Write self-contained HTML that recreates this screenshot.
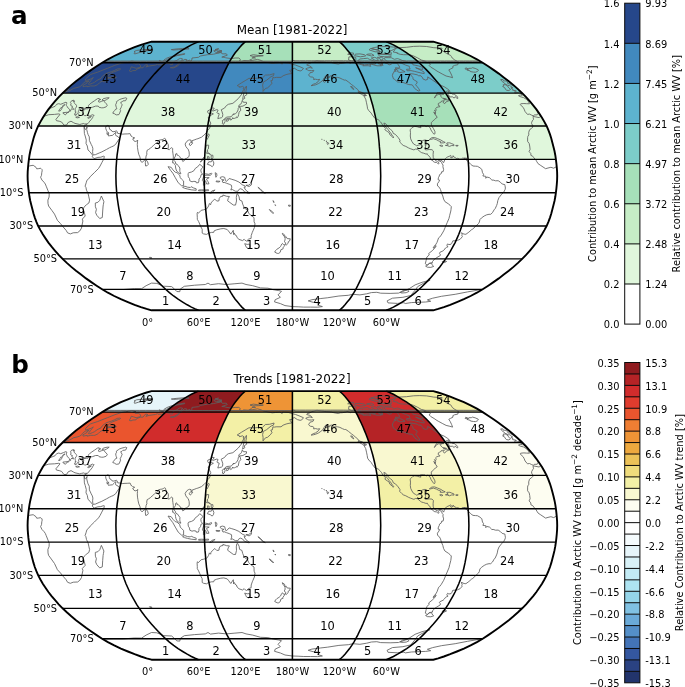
<!DOCTYPE html>
<html lang="en"><head><meta charset="utf-8"><title>Contribution to Arctic WV</title>
<style>
html,body{margin:0;padding:0;background:#fff}
body{width:685px;height:687px;overflow:hidden}
svg{display:block}
text{font-family:'DejaVu Sans','Liberation Sans',sans-serif;fill:#000}
.num{font-size:11.4px;text-anchor:start}
.lat{font-size:9.85px;text-anchor:end}
.lon{font-size:9.85px;text-anchor:middle}
.title{font-size:11.95px;text-anchor:middle}
.cl{font-size:9.85px;text-anchor:end}
.cr{font-size:9.85px;text-anchor:start}
.cbl{font-size:9.85px;text-anchor:middle}
.pl{font-size:24px;font-weight:bold}
</style></head><body>
<svg width="685" height="687" viewBox="0 0 685 687">
<rect width="685" height="687" fill="#fff"/>
<text x="10.9" y="23.5" class="pl" textLength="16.6" lengthAdjust="spacingAndGlyphs">a</text>
<text x="11.3" y="373.2" class="pl" textLength="17.6" lengthAdjust="spacingAndGlyphs">b</text>
<g>
<path d="M204.6 159.3 L204.8 155.2 L205 151 L205.4 146.9 L205.7 142.7 L206.1 138.5 L206.5 134.4 L207.1 130.2 L207.7 126 L292.4 126 L292.4 130.2 L292.4 134.4 L292.4 138.5 L292.4 142.7 L292.4 146.9 L292.4 151 L292.4 155.2 L292.4 159.3Z" fill="#e0f7dc"/>
<path d="M292.4 159.3 L292.4 155.2 L292.4 151 L292.4 146.9 L292.4 142.7 L292.4 138.5 L292.4 134.4 L292.4 130.2 L292.4 126 L377.1 126 L377.7 130.2 L378.3 134.4 L378.7 138.5 L379.1 142.7 L379.4 146.9 L379.8 151 L380 155.2 L380.2 159.3Z" fill="#e0f7dc"/>
<path d="M380.2 159.3 L380 155.2 L379.8 151 L379.4 146.9 L379.1 142.7 L378.7 138.5 L378.3 134.4 L377.7 130.2 L377.1 126 L461.8 126 L463.1 130.2 L464.1 134.4 L465 138.5 L465.8 142.7 L466.5 146.9 L467.1 151 L467.7 155.2 L468.1 159.3Z" fill="#e0f7dc"/>
<path d="M468.1 159.3 L467.7 155.2 L467.1 151 L466.5 146.9 L465.8 142.7 L465 138.5 L464.1 134.4 L463.1 130.2 L461.8 126 L546.6 126 L548.4 130.2 L550 134.4 L551.3 138.5 L552.4 142.7 L553.5 146.9 L554.5 151 L555.3 155.2 L555.9 159.3Z" fill="#e0f7dc"/>
<path d="M38.2 126 L40.4 121.9 L42.8 117.7 L45.5 113.6 L48.4 109.4 L51.6 105.3 L55.1 101.2 L58.7 97.1 L62.6 93.1 L139.2 93.1 L136.6 97.1 L134.2 101.2 L131.9 105.3 L129.7 109.4 L127.8 113.6 L126 117.7 L124.4 121.9 L123 126Z" fill="#e0f7dc"/>
<path d="M123 126 L124.4 121.9 L126 117.7 L127.8 113.6 L129.7 109.4 L131.9 105.3 L134.2 101.2 L136.6 97.1 L139.2 93.1 L215.8 93.1 L214.5 97.1 L213.3 101.2 L212.1 105.3 L211.1 109.4 L210.1 113.6 L209.2 117.7 L208.4 121.9 L207.7 126Z" fill="#e0f7dc"/>
<path d="M207.7 126 L208.4 121.9 L209.2 117.7 L210.1 113.6 L211.1 109.4 L212.1 105.3 L213.3 101.2 L214.5 97.1 L215.8 93.1 L292.4 93.1 L292.4 97.1 L292.4 101.2 L292.4 105.3 L292.4 109.4 L292.4 113.6 L292.4 117.7 L292.4 121.9 L292.4 126Z" fill="#e0f7dc"/>
<path d="M292.4 126 L292.4 121.9 L292.4 117.7 L292.4 113.6 L292.4 109.4 L292.4 105.3 L292.4 101.2 L292.4 97.1 L292.4 93.1 L369 93.1 L370.3 97.1 L371.5 101.2 L372.7 105.3 L373.7 109.4 L374.7 113.6 L375.6 117.7 L376.4 121.9 L377.1 126Z" fill="#e0f7dc"/>
<path d="M377.1 126 L376.4 121.9 L375.6 117.7 L374.7 113.6 L373.7 109.4 L372.7 105.3 L371.5 101.2 L370.3 97.1 L369 93.1 L445.6 93.1 L448.2 97.1 L450.6 101.2 L452.9 105.3 L455.1 109.4 L457 113.6 L458.8 117.7 L460.4 121.9 L461.8 126Z" fill="#a6e0b9"/>
<path d="M461.8 126 L460.4 121.9 L458.8 117.7 L457 113.6 L455.1 109.4 L452.9 105.3 L450.6 101.2 L448.2 97.1 L445.6 93.1 L522.2 93.1 L526.1 97.1 L529.7 101.2 L533.2 105.3 L536.4 109.4 L539.3 113.6 L542 117.7 L544.4 121.9 L546.6 126Z" fill="#e0f7dc"/>
<path d="M62.6 93.1 L66.8 89.1 L71.3 85.1 L76 81.2 L81 77.4 L86 73.6 L91.3 69.9 L96.6 66.3 L102.1 62.7 L165.6 62.7 L161.9 66.3 L158.3 69.9 L154.8 73.6 L151.4 77.4 L148.2 81.2 L145 85.1 L142 89.1 L139.2 93.1Z" fill="#26478a"/>
<path d="M139.2 93.1 L142 89.1 L145 85.1 L148.2 81.2 L151.4 77.4 L154.8 73.6 L158.3 69.9 L161.9 66.3 L165.6 62.7 L229 62.7 L227.1 66.3 L225.4 69.9 L223.6 73.6 L221.9 77.4 L220.3 81.2 L218.7 85.1 L217.2 89.1 L215.8 93.1Z" fill="#26478a"/>
<path d="M215.8 93.1 L217.2 89.1 L218.7 85.1 L220.3 81.2 L221.9 77.4 L223.6 73.6 L225.4 69.9 L227.1 66.3 L229 62.7 L292.4 62.7 L292.4 66.3 L292.4 69.9 L292.4 73.6 L292.4 77.4 L292.4 81.2 L292.4 85.1 L292.4 89.1 L292.4 93.1Z" fill="#4189be"/>
<path d="M292.4 93.1 L292.4 89.1 L292.4 85.1 L292.4 81.2 L292.4 77.4 L292.4 73.6 L292.4 69.9 L292.4 66.3 L292.4 62.7 L355.8 62.7 L357.7 66.3 L359.4 69.9 L361.2 73.6 L362.9 77.4 L364.5 81.2 L366.1 85.1 L367.6 89.1 L369 93.1Z" fill="#5db3cf"/>
<path d="M369 93.1 L367.6 89.1 L366.1 85.1 L364.5 81.2 L362.9 77.4 L361.2 73.6 L359.4 69.9 L357.7 66.3 L355.8 62.7 L419.2 62.7 L422.9 66.3 L426.5 69.9 L430 73.6 L433.4 77.4 L436.6 81.2 L439.8 85.1 L442.8 89.1 L445.6 93.1Z" fill="#5db3cf"/>
<path d="M445.6 93.1 L442.8 89.1 L439.8 85.1 L436.6 81.2 L433.4 77.4 L430 73.6 L426.5 69.9 L422.9 66.3 L419.2 62.7 L482.7 62.7 L488.2 66.3 L493.5 69.9 L498.8 73.6 L503.8 77.4 L508.8 81.2 L513.5 85.1 L518 89.1 L522.2 93.1Z" fill="#7ccdc9"/>
<path d="M102.1 62.7 L107.9 59.3 L114.2 56 L120.9 52.8 L127.9 49.9 L134.6 47.2 L140.9 44.9 L146.6 43.1 L151.5 41.7 L198.5 41.7 L195.2 43.1 L191.4 44.9 L187.2 47.2 L182.7 49.9 L178.1 52.8 L173.6 56 L169.4 59.3 L165.6 62.7Z" fill="#5db3cf"/>
<path d="M165.6 62.7 L169.4 59.3 L173.6 56 L178.1 52.8 L182.7 49.9 L187.2 47.2 L191.4 44.9 L195.2 43.1 L198.5 41.7 L245.4 41.7 L243.8 43.1 L241.9 44.9 L239.8 47.2 L237.6 49.9 L235.2 52.8 L233 56 L230.9 59.3 L229 62.7Z" fill="#5db3cf"/>
<path d="M229 62.7 L230.9 59.3 L233 56 L235.2 52.8 L237.6 49.9 L239.8 47.2 L241.9 44.9 L243.8 43.1 L245.4 41.7 L292.4 41.7 L292.4 43.1 L292.4 44.9 L292.4 47.2 L292.4 49.9 L292.4 52.8 L292.4 56 L292.4 59.3 L292.4 62.7Z" fill="#a6e0b9"/>
<path d="M292.4 62.7 L292.4 59.3 L292.4 56 L292.4 52.8 L292.4 49.9 L292.4 47.2 L292.4 44.9 L292.4 43.1 L292.4 41.7 L339.4 41.7 L341 43.1 L342.9 44.9 L345 47.2 L347.2 49.9 L349.6 52.8 L351.8 56 L353.9 59.3 L355.8 62.7Z" fill="#c6edc6"/>
<path d="M355.8 62.7 L353.9 59.3 L351.8 56 L349.6 52.8 L347.2 49.9 L345 47.2 L342.9 44.9 L341 43.1 L339.4 41.7 L386.3 41.7 L389.6 43.1 L393.4 44.9 L397.6 47.2 L402.1 49.9 L406.7 52.8 L411.2 56 L415.4 59.3 L419.2 62.7Z" fill="#7ccdc9"/>
<path d="M419.2 62.7 L415.4 59.3 L411.2 56 L406.7 52.8 L402.1 49.9 L397.6 47.2 L393.4 44.9 L389.6 43.1 L386.3 41.7 L433.3 41.7 L438.2 43.1 L443.9 44.9 L450.2 47.2 L456.9 49.9 L463.9 52.8 L470.6 56 L476.9 59.3 L482.7 62.7Z" fill="#c6edc6"/>
<path d="M533.0 116.4 L539.1 117.6 L540.4 116.6 L541.1 116.3 M43.7 116.3 L48.8 114.7 L54.5 114.4 L58.7 113.9 L60.0 114.4 L55.9 119.4 L56.5 120.7 L59.2 121.2 L61.6 122.0 L64.0 125.2 L66.6 125.0 L68.1 122.5 L71.0 121.2 L73.6 122.7 L75.0 123.4 L79.8 124.5 L81.4 124.0 L83.8 123.5 L84.7 124.0 L87.4 123.9 L84.1 126.0 L84.2 129.7 L84.4 133.5 L85.2 136.0 L86.3 140.2 L86.0 143.4 L87.3 146.0 L88.0 150.0 L90.1 151.9 L92.0 154.4 L92.7 155.2 L92.3 156.7 L94.1 158.7 L97.9 157.4 L100.8 157.2 L103.6 156.2 L104.3 156.4 L103.9 158.7 L101.8 162.7 L100.1 166.0 L98.5 168.5 L94.3 172.7 L90.2 176.7 L88.7 178.8 L86.9 180.3 L86.2 182.8 L85.1 186.2 L85.9 187.3 L86.5 190.2 L88.1 193.5 L88.8 196.8 L89.6 200.1 L88.9 203.0 L86.3 204.8 L85.1 206.0 L82.7 209.0 L84.4 212.6 L85.2 216.0 L82.3 219.1 L82.9 221.0 L81.9 225.8 L81.5 228.1 L79.8 230.9 L77.6 232.6 L73.2 232.8 L70.4 233.9 L67.6 232.9 L66.1 230.3 L63.0 226.8 L60.5 223.6 L57.4 220.3 L54.5 214.1 L52.0 210.6 L48.6 206.0 L48.0 203.5 L47.9 200.1 L49.1 197.0 L49.2 193.8 L48.0 190.7 L46.2 186.2 L45.3 184.0 L44.0 182.2 L41.9 180.0 L40.6 177.2 L41.5 175.3 L41.8 172.3 L42.2 170.8 L42.0 169.5 L41.0 168.5 L40.4 168.3 L38.2 168.7 L36.7 168.8 L36.0 167.3 L33.2 165.3 L29.9 165.8 L28.1 166.6 M556.7 166.6 L556.4 166.7 L553.7 168.2 L550.9 167.3 L548.0 168.0 L545.6 168.7 L540.8 165.5 L538.1 163.7 L536.9 161.8 L536.0 160.2 L533.8 157.7 L532.7 156.2 L530.9 155.4 L530.8 153.5 L529.1 151.5 L530.1 149.4 L529.7 146.0 L529.2 143.5 L527.6 141.4 L527.6 137.7 L527.8 136.5 L528.8 134.9 L528.7 132.5 L529.5 129.9 L529.8 129.5 L531.4 128.5 L532.8 127.0 L532.7 125.4 L531.6 123.7 L531.7 122.2 L532.8 120.1 L533.5 119.4 L533.2 117.4 L533.0 116.4 M101.4 196.0 L103.9 201.6 L103.4 204.3 L103.1 206.0 L102.7 211.0 L102.3 217.5 L99.7 218.5 L96.8 215.3 L95.6 212.6 L96.4 209.3 L95.4 206.8 L95.3 203.0 L97.9 202.3 L99.8 200.3 L100.5 198.3 L101.4 196.0 M533.4 115.9 L531.7 115.2 L529.5 114.1 L527.5 114.4 L525.1 111.6 L524.1 109.1 L523.2 107.4 L520.1 104.5 L520.7 103.8 L523.9 103.5 L526.7 103.7 L529.5 103.8 L528.5 101.7 L526.8 99.6 L523.6 97.6 L520.0 96.6 L518.5 95.7 L520.2 95.0 L522.3 95.3 L520.6 93.6 L522.9 93.8 M61.9 93.8 L62.1 93.9 L66.1 91.6 L69.0 90.8 L71.0 89.9 L73.6 88.3 L77.0 87.6 L79.6 86.8 L81.8 85.3 L82.3 84.2 L85.1 81.8 L89.2 80.9 L86.8 82.6 L87.0 83.1 L84.0 84.8 L83.0 85.4 L82.8 86.0 L83.0 86.7 L84.8 86.4 L87.2 85.9 L87.0 86.8 L90.8 85.9 L93.3 86.0 L94.9 85.9 L97.6 84.6 L98.4 84.0 L100.1 82.3 L102.0 81.2 L103.6 80.9 L103.3 81.8 L104.2 82.0 L106.2 80.4 L107.0 79.8 L106.3 79.3 L107.2 78.6 L109.1 78.1 L113.0 78.1 L116.3 77.5 L115.5 76.4 L110.7 77.1 L107.5 77.7 L107.7 76.7 L107.8 75.8 L110.2 73.9 L111.9 72.7 L118.4 70.2 L119.6 69.9 L120.6 69.0 L119.7 68.7 L117.2 69.0 L114.3 70.5 L111.7 71.6 L108.9 72.5 L105.8 73.7 L103.0 75.8 L102.4 76.3 L101.0 78.4 L97.0 80.4 L94.4 82.4 L92.5 83.2 L89.7 84.3 L88.3 84.2 L89.0 83.2 L90.7 80.9 L92.3 78.9 L93.3 77.5 L91.1 78.9 L86.8 80.3 L85.4 80.4 L85.7 78.9 L88.0 76.7 L90.4 74.6 L93.1 73.6 L97.6 72.2 L103.0 70.0 L107.2 68.4 L111.9 66.5 L114.9 65.3 L121.6 63.1 L125.3 62.5 L128.6 61.8 L131.8 61.1 L133.9 61.4 L135.8 62.2 L132.9 63.0 L134.3 63.0 L135.3 64.1 L138.8 63.8 L140.6 65.8 L140.3 67.3 L136.1 68.3 L133.3 67.4 L131.3 66.8 L130.1 69.9 L129.2 70.8 L131.0 71.5 L132.9 70.6 L135.9 70.5 L136.8 69.1 L140.5 67.8 L143.1 67.7 L143.8 66.7 L145.7 64.6 L147.9 65.1 L145.8 67.0 L149.1 66.0 L155.5 65.1 L157.5 64.3 L158.0 64.8 L162.3 64.8 L165.8 63.0 L169.3 63.7 L170.8 64.8 L172.8 64.3 L172.5 63.1 L173.9 61.6 L176.8 60.4 L179.2 58.8 L180.7 58.4 L182.7 58.9 L180.4 61.4 L178.5 64.1 L174.3 67.0 L170.3 67.7 L173.4 68.0 L177.1 66.3 L179.6 64.1 L182.0 61.1 L184.8 59.3 L186.9 59.7 L186.4 61.4 L189.8 60.0 L190.5 62.0 L191.8 60.0 L192.0 58.0 L198.5 57.3 L200.3 56.0 L207.5 54.7 L213.4 54.2 L220.5 52.6 L222.0 53.1 L222.3 53.9 L226.3 53.8 L227.3 55.2 L221.8 57.1 L225.0 57.4 L225.7 57.8 L231.3 58.6 L235.1 58.0 L238.8 58.0 L240.4 59.3 L239.5 60.5 L241.7 61.5 L243.7 60.5 L248.2 60.8 L251.4 59.3 L250.4 60.7 L257.5 59.4 L261.3 60.5 L263.1 61.5 L270.7 63.1 L272.2 63.4 L275.4 63.1 L280.0 62.7 L282.2 64.1 L282.5 62.6 L288.2 63.0 L292.4 64.3 L295.6 65.1 L300.0 66.8 L303.4 68.3 L303.2 69.0 L301.1 70.8 L300.1 70.9 L297.4 70.2 L294.1 68.0 L292.1 69.9 L289.6 70.3 L291.3 72.8 L291.6 73.6 L289.0 73.9 L286.1 74.6 L283.1 75.8 L281.0 77.4 L276.2 77.4 L274.5 77.7 L272.9 77.5 L272.4 80.4 L270.8 80.7 L272.0 83.2 L270.3 85.4 L267.5 87.9 L265.5 88.4 L263.0 91.5 L263.1 88.3 L262.6 85.1 L263.4 82.0 L266.4 80.4 L271.1 76.6 L273.4 75.8 L274.1 73.6 L269.6 74.9 L265.4 75.1 L262.3 78.1 L257.9 78.1 L255.2 78.4 L251.0 78.4 L248.9 78.4 L245.1 80.7 L241.4 82.9 L237.2 85.6 L239.8 86.7 L239.4 87.3 L242.7 86.4 L244.3 87.8 L243.1 88.3 L243.7 89.5 L242.2 92.3 L241.4 94.7 L238.2 98.7 L235.0 101.5 L232.9 103.3 L228.4 104.3 L226.4 105.6 L224.5 108.1 L221.2 109.8 L222.0 111.7 L222.8 114.4 L222.5 116.9 L221.7 117.6 L219.5 118.2 L217.8 118.6 L218.5 116.1 L219.1 114.4 L219.1 113.6 L217.4 113.2 L216.9 112.6 L218.1 110.2 L216.9 109.6 L213.4 110.9 L212.8 111.2 L212.7 110.1 L214.3 108.3 L212.8 107.9 L210.3 109.6 L207.7 110.9 L207.7 112.2 L208.7 113.6 L211.3 113.1 L213.4 113.9 L211.1 115.1 L210.0 116.1 L208.1 117.7 L208.9 119.4 L209.7 121.1 L210.7 123.0 L210.6 124.4 L209.2 125.2 L210.5 126.0 L209.4 128.5 L207.8 130.2 L206.1 133.0 L203.9 135.2 L201.5 137.2 L197.9 138.7 L196.7 139.0 L194.1 140.0 L192.1 140.7 L192.0 142.2 L191.1 142.0 L191.1 140.2 L189.4 139.9 L188.5 140.2 L186.8 141.4 L185.1 144.0 L185.8 146.4 L187.2 148.4 L188.2 149.2 L189.1 151.9 L189.3 154.7 L188.9 156.7 L186.3 158.5 L185.3 158.7 L184.9 160.0 L182.8 161.5 L182.3 160.2 L182.6 158.8 L181.7 158.7 L180.6 158.3 L179.7 156.5 L178.7 155.7 L176.9 154.9 L177.0 153.7 L176.4 153.5 L175.7 153.9 L175.5 156.0 L174.3 158.0 L174.0 160.5 L175.3 161.8 L175.9 164.0 L177.4 164.5 L178.2 165.7 L179.9 168.0 L179.8 170.2 L179.9 171.7 L180.9 173.7 L180.0 173.8 L178.6 172.7 L176.8 171.2 L175.9 169.0 L175.5 167.0 L175.4 165.3 L174.6 164.5 L173.2 162.3 L172.6 162.8 L172.7 160.7 L173.3 158.5 L173.3 156.0 L172.9 153.2 L172.6 150.7 L172.7 148.5 L171.7 147.7 L170.7 148.2 L169.3 149.7 L167.8 149.4 L168.4 146.9 L168.3 144.7 L167.4 143.0 L166.6 142.2 L165.8 140.5 L165.5 138.9 L164.4 138.4 L163.6 139.0 L162.1 139.7 L160.2 139.9 L158.3 140.5 L158.0 141.7 L157.2 142.9 L156.3 143.0 L155.0 143.9 L153.5 145.5 L152.2 146.5 L150.5 148.2 L148.7 149.4 L147.2 150.2 L146.7 152.7 L146.9 154.2 L146.1 156.0 L145.7 158.8 L144.7 160.5 L143.2 161.2 L142.1 162.5 L140.7 161.0 L140.4 159.3 L139.9 156.9 L138.8 154.5 L138.1 151.4 L137.9 150.2 L137.5 147.7 L137.3 144.4 L137.5 141.9 L137.7 140.0 L136.9 141.0 L135.1 141.5 L133.8 140.7 L132.7 138.9 L134.7 137.9 L132.7 137.2 L132.0 136.5 L130.9 135.9 L130.6 134.7 L130.1 133.7 L127.2 133.9 L124.0 134.0 L122.8 134.2 L120.1 133.7 L117.7 133.4 L117.1 131.4 L116.4 130.9 L113.9 131.7 L112.1 131.5 L111.1 130.0 L109.8 129.5 L109.3 127.9 L109.1 126.0 L107.7 125.4 L106.7 126.0 L105.9 126.2 L105.7 127.0 L105.8 128.7 L106.6 130.7 L107.3 131.9 L106.9 133.4 L107.4 134.7 L107.7 133.5 L108.5 132.5 L108.7 134.0 L108.2 135.0 L108.5 136.0 L109.8 135.7 L112.4 135.4 L114.1 133.9 L115.5 132.5 L116.0 132.2 L115.5 134.4 L115.7 135.4 L118.1 136.7 L119.5 138.5 L117.1 142.0 L115.6 144.4 L113.1 146.2 L111.3 146.9 L109.6 147.7 L106.6 149.4 L101.8 151.9 L99.2 153.0 L95.3 154.7 L93.1 154.9 L92.8 153.9 L92.6 151.4 L92.9 148.7 L92.3 146.5 L91.2 144.4 L89.4 140.5 L89.3 136.9 L88.0 134.4 L87.5 132.7 L86.7 129.4 L87.1 127.0 L85.6 129.4 L85.3 129.7 L84.6 128.9 L84.2 126.2 M87.4 123.9 L88.6 122.7 L89.8 121.1 L91.2 119.6 L92.6 117.7 L92.9 116.7 L94.1 115.2 L93.4 115.1 L92.3 114.7 L90.2 115.9 L89.1 116.1 L87.4 114.7 L87.0 114.6 L86.2 115.6 L84.4 115.6 L83.5 114.7 L82.6 114.4 L83.2 112.9 L82.3 112.2 L83.2 111.9 L84.0 110.6 L83.3 110.2 L84.0 109.3 L86.1 108.8 L88.1 108.8 L88.8 107.8 L92.3 107.3 L95.6 106.1 L98.2 106.1 L99.1 107.3 L101.4 107.8 L103.2 107.8 L106.1 106.9 L107.3 105.3 L107.0 104.5 L105.9 103.5 L104.8 102.2 L104.6 101.7 L103.7 100.9 L104.9 100.5 L106.6 99.6 L109.2 97.8 L107.1 97.8 L103.3 98.7 L102.1 100.0 L103.7 100.5 L101.8 101.2 L99.4 102.2 L98.7 102.0 L98.6 100.5 L100.7 99.4 L99.3 99.4 L99.2 98.4 L97.4 98.7 L94.6 100.7 L91.9 102.5 L90.1 103.8 L88.6 105.3 L88.4 106.3 L89.0 107.4 L86.7 107.8 L85.1 108.6 L84.4 108.3 L83.3 107.9 L82.5 107.9 L81.1 108.8 L80.9 109.4 L80.0 109.6 L80.1 108.4 L79.0 109.4 L78.7 110.7 L78.4 111.7 L79.1 112.4 L78.6 113.2 L77.7 112.9 L77.2 113.7 L76.2 115.2 L75.3 115.4 L75.3 114.4 L74.6 114.7 L75.0 113.1 L76.2 112.2 L75.2 112.1 L75.4 111.1 L75.2 109.9 L75.1 108.8 L76.3 107.1 L76.7 106.1 L76.4 105.3 L75.4 104.0 L74.4 103.3 L74.1 102.5 L74.5 100.9 L73.2 101.5 L73.8 100.2 L71.7 100.7 L70.4 102.5 L71.1 103.5 L70.6 105.3 L72.2 106.3 L72.6 106.3 L71.7 107.1 L72.7 107.6 L73.6 109.3 L73.0 109.8 L72.1 108.6 L70.7 109.8 L70.6 111.1 L69.6 111.4 L68.0 112.9 L67.4 112.7 L68.4 111.6 L69.5 110.7 L69.7 109.6 L69.0 109.1 L68.6 108.4 L68.6 108.1 L67.4 107.4 L67.1 106.4 L66.4 105.5 L66.3 104.5 L66.7 103.7 L66.8 102.7 L66.0 102.2 L63.4 103.2 L60.7 104.3 L59.9 104.0 L58.6 103.7 L56.6 104.3 L55.7 105.5 L55.1 106.3 L53.1 107.1 L50.5 108.1 L48.2 109.7 M536.6 109.7 L536.6 110.2 L537.6 111.0 M47.2 111.0 L47.1 111.6 L46.7 111.8 M538.1 111.8 L537.7 112.2 L538.3 113.4 L537.3 114.2 L537.2 114.9 L534.2 114.9 L533.4 115.9 M118.3 100.4 L119.4 99.6 L121.9 98.7 L124.3 98.1 L125.7 97.8 L126.8 98.3 L125.6 100.7 L122.9 100.9 L121.8 102.0 L120.8 102.2 L121.2 103.5 L122.2 104.8 L121.5 106.4 L121.2 107.4 L120.1 109.4 L120.6 110.7 L119.3 113.9 L118.9 114.6 L116.2 114.9 L114.4 113.7 L112.8 113.2 L113.4 111.9 L114.6 110.6 L115.7 109.1 L116.9 108.8 L116.3 107.3 L115.9 106.0 L115.7 104.5 L116.6 102.8 L116.3 101.8 L118.3 100.4 M514.8 92.9 L517.2 92.6 L518.8 92.1 L520.9 91.8 M63.9 91.8 L64.3 91.8 L66.4 91.1 L65.9 90.7 L69.1 88.9 L67.8 88.4 L68.9 87.3 L69.1 87.0 M515.7 87.0 L514.9 86.5 L511.8 85.1 L509.5 83.8 L507.7 83.5 L507.9 83.1 L507.0 81.8 L506.4 81.0 L504.2 80.9 L503.7 81.2 L502.9 79.5 L500.7 79.5 L501.6 81.0 L503.9 82.8 L506.1 84.6 L506.5 84.2 L507.9 85.6 L509.4 85.3 L510.6 86.2 L512.7 87.6 L511.0 87.8 L511.6 88.6 L513.0 89.2 L512.6 90.2 L515.7 90.7 L516.4 91.1 L514.9 91.3 L514.8 92.9 M510.5 89.5 L508.8 90.5 L506.8 90.3 L505.6 89.5 L504.9 87.9 L502.6 86.4 L503.9 85.9 L503.1 84.8 L504.0 84.6 L505.7 84.8 L507.3 85.7 L507.9 86.8 L509.0 87.8 L510.5 89.5 M470.4 71.6 L473.4 72.1 L475.7 72.2 L477.6 71.3 L478.3 70.6 L478.1 69.7 L475.1 68.4 L472.5 67.7 L471.3 68.3 L468.8 68.3 L468.6 69.1 L465.8 67.8 L465.2 68.7 L465.2 69.1 L468.2 69.3 L466.9 70.0 L470.2 70.9 L470.4 71.6 M63.0 112.7 L67.7 112.2 L65.4 114.9 L62.8 113.1 L63.0 112.7 M60.7 107.8 L62.3 107.4 L61.5 109.4 L60.2 110.9 L58.6 111.1 L60.1 108.9 L60.7 107.8 M64.9 104.5 L63.7 106.1 L62.6 107.1 L62.5 106.1 L63.4 105.1 L64.9 104.5 M75.7 117.2 L77.3 116.7 L79.5 117.4 L77.1 117.9 L75.7 117.2 M87.6 117.7 L88.9 117.1 L91.4 116.6 L89.8 117.7 L88.2 118.4 L87.6 117.7 M239.9 106.9 L240.8 110.2 L239.1 112.2 L238.6 114.6 L238.2 116.6 L236.8 117.9 L236.6 116.9 L235.2 118.2 L234.3 118.4 L232.7 118.4 L232.6 117.7 L232.3 118.9 L230.7 120.2 L230.0 118.9 L230.3 118.2 L228.5 118.4 L226.4 118.9 L224.0 119.4 L224.9 118.4 L226.8 117.1 L229.2 116.9 L231.3 116.7 L232.8 114.7 L233.8 113.6 L233.2 114.7 L235.4 113.7 L236.9 112.4 L238.1 109.9 L238.2 108.4 L238.9 107.4 L239.9 106.9 M224.0 119.6 L225.0 120.6 L225.1 121.4 L224.1 123.7 L223.0 124.4 L222.4 123.7 L222.7 121.9 L222.1 120.9 L223.2 120.1 L224.0 119.6 M226.2 119.9 L227.7 119.2 L229.2 119.1 L228.5 120.6 L226.7 121.4 L226.2 119.9 M238.7 106.9 L240.3 106.4 L243.0 106.1 L246.5 104.0 L246.5 102.3 L243.4 102.3 L242.3 100.4 L241.6 102.8 L240.8 104.1 L239.4 104.8 L238.7 106.1 L238.7 106.9 M246.4 86.0 L246.5 88.3 L245.9 91.5 L246.8 94.7 L244.3 96.3 L244.8 98.3 L242.6 99.6 L243.2 96.3 L243.9 93.1 L244.3 89.9 L246.4 86.0 M208.7 133.9 L209.3 135.2 L207.2 139.4 L206.3 137.7 L208.0 134.4 L208.7 133.9 M192.6 142.7 L192.6 143.4 L190.2 145.7 L189.1 144.0 L190.5 142.7 L192.6 142.7 M146.0 159.7 L147.6 161.8 L148.3 164.3 L147.1 165.7 L145.6 166.0 L145.3 162.7 L146.0 159.7 M206.4 145.2 L208.7 145.2 L208.4 148.9 L207.5 149.7 L207.6 152.4 L210.6 154.4 L210.5 154.7 L208.8 153.5 L206.3 153.2 L205.8 152.0 L205.6 149.4 L205.9 146.9 L206.4 145.2 M212.4 159.7 L213.9 163.0 L213.4 165.3 L212.2 166.7 L210.2 165.2 L207.3 164.3 L208.8 161.8 L211.3 161.8 L212.4 159.7 M200.3 162.0 L203.9 157.2 L203.6 158.8 L201.2 161.7 L200.3 162.0 M207.6 156.4 L209.2 156.9 L208.9 159.3 L208.2 160.2 L207.5 158.5 L207.6 156.4 M211.2 155.2 L212.8 155.2 L213.0 157.4 L211.9 159.0 L211.2 157.7 L211.2 155.2 M168.0 166.7 L171.2 167.3 L172.9 169.8 L175.2 172.2 L177.0 172.7 L179.7 175.2 L180.3 177.7 L181.4 179.0 L183.6 181.0 L183.6 185.7 L181.5 185.7 L178.2 182.7 L175.3 177.7 L172.8 173.2 L170.7 170.5 L168.0 166.7 M182.6 187.3 L184.9 186.2 L187.6 187.2 L190.3 187.5 L191.1 186.7 L193.7 188.0 L196.2 188.8 L196.2 190.3 L191.2 189.8 L187.5 189.0 L184.4 188.2 L182.6 187.3 M188.0 173.5 L188.9 172.7 L191.5 172.0 L193.9 170.7 L195.4 168.3 L197.7 166.8 L199.7 164.3 L201.0 165.3 L203.1 167.2 L201.3 168.8 L200.8 170.2 L201.2 172.3 L202.7 174.3 L201.1 174.7 L200.5 177.3 L199.0 179.0 L198.9 181.0 L198.4 182.7 L196.3 182.8 L196.1 181.7 L193.9 181.3 L192.0 181.8 L189.8 180.8 L189.5 178.5 L188.3 176.8 L188.0 173.5 M203.9 174.7 L205.3 173.8 L208.6 174.3 L211.5 173.2 L211.8 173.7 L210.5 175.3 L207.1 175.2 L204.9 175.2 L204.3 177.5 L206.5 177.5 L209.2 177.7 L206.4 179.2 L207.9 181.5 L209.0 183.8 L206.6 184.0 L205.7 181.0 L204.8 180.5 L204.9 185.2 L203.4 185.2 L203.5 181.8 L202.4 180.5 L203.7 176.2 L203.9 174.7 M220.3 177.3 L222.5 176.7 L224.7 177.3 L225.5 180.7 L226.3 181.5 L229.2 178.5 L231.8 179.3 L235.1 180.3 L238.9 182.0 L242.2 184.7 L245.1 186.0 L245.3 187.2 L244.0 187.3 L245.9 190.3 L249.7 193.2 L248.2 193.3 L244.4 191.8 L242.5 189.5 L240.3 188.7 L238.6 189.8 L237.9 191.3 L235.3 191.2 L232.3 189.5 L230.8 190.0 L231.7 187.7 L231.5 185.3 L229.2 184.2 L226.6 183.3 L224.1 182.3 L223.0 182.7 L222.1 180.8 L224.0 180.0 L221.8 179.5 L220.3 178.3 L220.3 177.3 M209.7 193.2 L211.8 191.0 L215.1 190.0 L213.3 191.5 L211.2 193.0 L209.7 193.2 M198.6 190.0 L201.5 189.8 L204.4 190.0 L208.5 189.7 L208.6 190.7 L204.5 190.8 L201.5 190.8 L198.6 190.8 L198.6 190.0 M215.2 172.7 L216.7 173.5 L216.9 175.5 L215.9 177.3 L215.5 175.2 L215.2 172.7 M216.0 181.0 L220.1 181.3 L218.9 182.0 L216.3 181.8 L216.0 181.0 M245.9 185.3 L248.6 185.2 L251.6 183.0 L251.3 185.0 L249.1 186.5 L245.9 185.3 M237.5 193.8 L239.1 196.8 L239.6 200.0 L241.9 201.0 L242.7 204.1 L244.4 208.0 L247.4 210.1 L248.7 213.1 L250.5 215.1 L254.0 217.6 L254.1 221.8 L255.0 223.8 L254.4 227.6 L253.0 230.8 L252.3 232.4 L251.2 235.6 L251.1 238.4 L248.6 239.1 L246.5 241.1 L244.6 239.9 L244.1 239.3 L242.6 240.6 L239.0 239.4 L237.1 237.6 L236.4 235.6 L234.9 234.8 L234.8 233.9 L234.0 232.9 L233.7 234.6 L233.3 230.3 L230.8 234.1 L228.4 230.9 L227.2 229.5 L223.8 228.5 L220.8 228.8 L216.7 229.8 L214.1 230.9 L213.7 232.4 L211.5 232.4 L208.3 233.3 L206.5 234.4 L203.6 233.9 L202.2 233.1 L202.2 229.3 L200.7 226.5 L199.7 224.0 L198.6 221.5 L197.3 219.3 L197.3 217.3 L197.1 213.6 L197.5 212.3 L198.3 213.3 L201.2 210.3 L203.7 209.8 L206.8 208.8 L208.6 206.0 L209.4 203.5 L210.6 204.8 L211.0 203.0 L212.3 201.3 L214.8 199.1 L216.8 201.1 L219.0 200.8 L219.2 198.6 L220.5 196.6 L223.0 196.1 L222.9 195.0 L226.7 196.3 L229.4 196.5 L228.2 198.5 L227.6 200.8 L229.9 202.5 L233.3 205.0 L235.5 205.1 L236.5 201.0 L236.3 197.5 L236.8 194.3 L237.5 193.8 M244.7 243.7 L247.2 244.4 L249.6 244.1 L249.9 246.2 L249.6 247.9 L248.3 248.5 L246.4 247.4 L245.7 245.9 L244.7 243.7 M282.3 233.3 L284.5 234.8 L285.2 237.3 L286.2 236.8 L287.2 238.6 L290.3 238.8 L289.5 241.1 L288.2 241.8 L288.2 243.2 L286.1 245.2 L285.4 244.7 L285.8 242.9 L285.1 242.4 L284.0 241.4 L285.0 240.6 L285.1 238.3 L284.4 236.6 L282.7 234.6 L282.3 233.3 M282.5 243.4 L283.4 244.7 L284.7 244.6 L284.5 245.6 L284.0 246.5 L282.8 248.0 L283.2 248.8 L280.9 249.7 L280.2 252.3 L278.7 253.4 L277.3 253.4 L276.0 252.8 L274.7 252.1 L275.6 250.5 L276.8 249.3 L279.1 247.9 L280.6 246.5 L281.1 245.4 L281.7 244.1 L282.5 243.4 M269.3 209.5 L271.5 211.0 L273.7 213.1 L272.5 213.0 L270.0 210.6 L269.3 209.5 M288.5 205.1 L290.4 205.3 L290.2 206.3 L288.6 206.1 L288.5 205.1 M257.9 187.3 L260.1 188.7 L263.1 191.8 L265.3 193.2 L263.1 192.5 L260.1 189.3 L257.9 187.3 M316.9 60.9 L321.7 61.6 L326.1 62.2 L331.5 62.6 L333.8 63.3 L338.4 64.1 L340.2 63.4 L342.3 63.3 L346.2 62.6 L347.0 62.0 L350.9 63.4 L351.1 62.7 L355.0 63.1 L359.9 64.3 L363.6 65.3 L362.9 65.8 L368.2 65.7 L370.7 66.3 L369.8 64.7 L371.6 64.3 L377.0 65.8 L381.3 65.8 L380.2 65.0 L383.1 65.3 L381.2 63.4 L382.7 64.0 L380.6 60.0 L384.3 61.4 L385.2 63.1 L387.0 63.4 L389.2 64.8 L391.0 64.4 L392.5 63.0 L396.2 63.0 L397.7 63.8 L398.3 64.8 L399.8 67.3 L398.2 68.0 L395.4 67.7 L396.1 69.6 L394.1 69.9 L396.3 71.1 L394.0 71.3 L394.0 72.4 L393.0 73.1 L392.4 75.7 L393.5 78.9 L394.3 79.2 L397.7 82.0 L401.1 82.0 L404.0 82.8 L408.8 84.6 L412.3 84.9 L414.5 88.3 L416.1 89.5 L418.2 91.0 L419.9 90.7 L418.7 88.6 L417.0 86.4 L415.5 84.6 L417.0 83.2 L417.1 81.7 L413.1 79.3 L412.8 77.4 L409.6 73.7 L413.0 73.9 L417.2 74.8 L418.5 75.7 L421.0 75.8 L422.8 78.1 L422.8 78.9 L425.7 80.1 L427.8 79.2 L427.7 76.9 L433.0 80.4 L436.3 82.8 L439.5 84.8 L444.1 86.7 L447.8 89.1 L448.8 89.9 L447.8 90.8 L446.1 91.5 L445.4 92.7 L441.4 92.6 L437.2 92.7 L436.7 94.2 L435.6 95.5 L434.4 98.1 L435.4 96.8 L436.7 95.2 L438.7 94.4 L441.1 94.8 L440.6 96.3 L442.2 97.6 L443.5 99.1 L445.0 99.6 L448.0 100.0 L449.3 99.1 L448.3 97.9 L449.0 100.7 L446.2 101.8 L444.7 103.7 L443.0 102.3 L444.4 100.7 L442.8 100.9 L441.4 101.2 L441.5 101.7 L439.6 102.8 L438.3 103.5 L438.3 105.0 L438.5 105.6 L439.9 106.1 L439.5 106.9 L438.5 106.9 L436.7 107.4 L435.7 108.3 L435.9 108.9 L436.1 110.1 L435.6 111.2 L434.4 110.2 L435.6 111.9 L435.4 114.1 L435.0 114.4 L433.9 111.9 L435.0 114.4 L435.8 115.1 L437.2 117.4 L435.8 118.2 L434.6 119.6 L433.2 120.7 L432.3 121.5 L431.3 122.7 L431.4 125.2 L433.4 128.5 L434.9 131.4 L435.0 133.2 L434.7 134.0 L433.9 134.2 L432.6 132.5 L430.9 129.9 L430.1 127.7 L428.2 126.0 L427.5 125.9 L426.2 126.5 L424.3 125.4 L423.3 125.5 L422.1 125.4 L420.1 125.7 L421.0 127.7 L419.1 127.4 L417.1 126.7 L414.6 126.4 L412.9 127.0 L411.5 128.4 L410.1 129.7 L410.5 132.7 L410.3 136.0 L410.7 138.9 L411.9 141.5 L413.6 144.0 L415.5 145.0 L416.4 145.7 L419.1 145.0 L420.8 144.7 L421.7 142.9 L421.6 141.0 L422.7 140.5 L424.9 140.0 L426.4 140.2 L426.8 140.9 L426.1 143.5 L426.0 145.5 L425.2 145.2 L425.6 146.9 L425.3 149.4 L424.9 149.5 L426.2 149.9 L429.1 149.5 L432.0 149.7 L433.4 151.0 L433.1 154.4 L433.2 156.9 L433.3 157.7 L434.4 159.3 L435.7 160.7 L437.5 161.3 L439.0 160.3 L441.1 160.2 L442.8 161.5 L443.6 162.7 L444.3 161.0 L445.3 158.7 L446.3 157.7 L447.1 157.2 L449.9 156.0 L450.6 155.4 L451.3 156.4 L450.5 156.9 L451.0 157.9 L453.0 157.0 L453.1 155.7 L453.7 156.9 L455.8 157.9 L456.3 158.5 L457.9 158.3 L459.3 159.0 L461.2 159.2 L462.4 158.2 L465.1 158.2 L463.9 158.5 L465.3 159.3 L466.7 160.2 L468.3 161.8 L470.7 164.3 L471.1 164.7 L473.0 166.0 L475.6 166.2 L477.4 166.3 L480.0 167.8 L481.1 168.8 L481.8 169.3 L482.5 172.7 L483.6 174.3 L482.9 176.0 L485.8 176.3 L485.8 178.3 L486.7 177.0 L489.5 177.7 L491.6 179.7 L491.9 180.2 L493.1 180.0 L495.6 180.8 L498.2 180.7 L500.4 182.2 L502.2 184.0 L504.9 184.7 L505.0 185.7 L505.4 188.0 L505.1 189.5 L503.7 192.2 L501.6 194.3 L499.0 197.6 L497.8 200.6 L497.3 203.5 L496.6 205.5 L495.2 208.6 L494.1 209.8 L492.5 212.6 L490.7 214.3 L489.0 214.3 L486.7 214.8 L484.2 216.0 L481.4 218.0 L479.9 219.6 L479.4 222.0 L478.5 223.6 L475.6 226.3 L472.8 229.0 L471.7 229.6 L468.9 232.1 L465.9 234.3 L464.1 234.1 L462.2 233.4 L461.7 232.6 L461.3 233.6 L462.3 234.8 L461.7 235.9 L462.4 236.6 L460.1 239.3 L457.5 240.4 L453.8 240.9 L453.0 240.6 L451.7 243.4 L451.1 244.2 L448.9 244.6 L447.6 243.9 L446.9 245.1 L447.3 246.4 L448.1 246.7 L446.5 247.4 L445.5 248.0 L444.0 250.0 L443.2 250.8 L439.9 252.3 L439.4 253.3 L440.2 254.1 L440.3 255.5 L436.8 257.6 L434.6 259.1 L432.5 261.5 L432.5 262.6 L430.9 262.9 L428.9 263.4 L427.6 265.0 L426.2 264.4 L425.3 263.7 L426.1 260.5 L426.9 257.0 L429.3 254.9 L428.6 253.6 L432.1 250.8 L434.7 248.3 L436.2 245.9 L435.1 245.6 L437.0 242.4 L438.6 237.9 L439.5 237.3 L441.2 235.1 L443.7 230.9 L445.1 227.6 L445.7 226.0 L447.2 222.6 L449.0 218.3 L449.7 215.3 L450.8 211.0 L451.0 209.6 L451.3 206.6 L450.1 205.3 L448.3 203.8 L444.9 201.6 L443.6 199.1 L442.8 196.0 L441.4 192.7 L440.5 189.5 L439.3 187.3 L437.6 186.0 L437.4 183.8 L438.9 181.7 L439.6 180.2 L438.1 179.7 L438.4 177.7 L439.3 176.0 L439.5 174.7 L441.2 173.7 L441.6 171.8 L443.1 171.7 L443.6 169.5 L442.9 166.7 L443.1 165.0 L442.2 164.0 L441.6 162.2 L441.3 162.0 L439.7 161.0 L438.4 162.2 L439.1 163.5 L438.5 163.8 L437.5 163.3 L436.5 162.5 L434.8 162.3 L433.6 161.8 L432.0 159.8 L431.4 160.0 L430.3 159.0 L430.3 157.7 L428.9 155.9 L427.3 154.5 L427.5 153.9 L425.9 154.0 L423.7 153.2 L421.7 152.7 L420.2 151.7 L417.6 149.4 L415.7 149.0 L413.9 149.9 L410.9 148.9 L408.7 148.0 L405.8 146.4 L403.2 145.4 L401.9 144.2 L399.7 142.0 L400.0 140.2 L398.1 137.4 L395.4 134.4 L393.3 133.4 L392.4 131.0 L390.6 129.5 L388.4 127.7 L386.6 124.7 L385.9 123.9 L383.9 123.0 L384.5 125.2 L386.6 127.9 L387.9 129.4 L389.0 131.0 L390.5 132.7 L392.3 135.7 L393.8 137.0 L393.2 137.9 L392.5 136.9 L389.8 134.7 L389.2 132.7 L387.2 131.4 L384.8 129.7 L385.7 128.5 L383.2 126.0 L381.4 123.0 L380.5 121.9 L378.2 119.6 L375.1 118.6 L372.4 115.1 L371.2 113.1 L368.8 110.6 L367.6 108.8 L367.2 106.1 L366.5 102.8 L365.7 99.2 L363.8 95.7 L366.6 95.5 L365.3 94.2 L362.7 92.6 L358.9 91.5 L357.7 89.5 L355.2 87.5 L353.8 86.2 L351.5 84.5 L348.5 82.0 L345.8 80.1 L344.4 80.1 L342.5 79.3 L339.9 78.0 L337.6 77.4 L334.7 77.4 L331.5 75.7 L329.7 76.1 L329.8 77.4 L328.3 77.2 L325.8 78.6 L325.7 76.6 L327.2 75.5 L325.6 75.8 L324.7 77.4 L323.7 78.3 L323.2 80.0 L320.8 82.0 L318.6 83.5 L315.7 84.8 L313.3 85.4 L311.1 85.7 L313.2 84.3 L315.5 83.5 L318.3 81.5 L319.7 79.3 L317.7 79.7 L315.6 79.2 L313.6 79.5 L313.9 78.1 L312.9 77.2 L310.6 76.9 L309.6 76.4 L308.6 74.9 L309.8 73.4 L310.1 72.7 L312.8 72.1 L313.9 70.3 L311.5 70.6 L308.8 70.6 L307.5 69.9 L305.7 69.0 L307.3 68.1 L310.0 67.5 L312.3 68.3 L311.5 67.1 L309.8 66.0 L306.7 65.1 L307.2 64.3 L309.9 63.4 L311.9 62.3 L314.4 61.6 L316.9 60.9 M431.8 263.3 L429.3 263.4 L427.5 265.3 L425.6 266.1 L427.3 267.2 L430.8 267.4 L433.7 266.4 L432.7 265.6 L431.9 264.2 L431.8 263.3 M434.9 245.6 L435.0 246.4 L434.0 248.2 L433.1 247.9 L434.1 246.2 L434.9 245.6 M442.1 261.8 L445.3 261.2 L446.6 261.5 L444.3 262.6 L442.1 262.1 L442.1 261.8 M429.3 139.5 L431.8 137.7 L434.6 137.5 L437.7 138.7 L440.8 140.0 L443.2 141.5 L445.2 142.4 L443.4 142.9 L440.2 142.9 L440.8 141.7 L438.8 141.0 L436.4 139.7 L433.4 138.7 L430.6 139.5 L429.3 139.5 M445.4 145.4 L447.5 145.7 L449.4 146.4 L451.8 145.5 L454.0 145.7 L453.9 144.5 L451.8 143.7 L449.9 142.9 L447.0 142.9 L446.5 143.4 L448.0 144.4 L448.2 145.0 L445.4 145.4 M439.7 145.5 L441.6 145.2 L442.9 146.0 L441.5 146.4 L439.7 145.5 M455.8 145.4 L458.1 145.4 L457.9 146.0 L455.9 146.0 L455.8 145.4 M465.2 158.2 L466.5 158.0 L466.6 159.2 L465.3 159.2 L465.2 158.2 M449.0 96.9 L449.1 95.5 L448.0 95.3 L448.2 92.1 L449.0 90.5 L449.7 90.8 L450.0 93.6 L451.1 93.2 L452.7 94.2 L454.4 94.0 L455.4 95.3 L456.9 96.1 L457.6 97.1 L457.8 98.4 L456.7 98.3 L455.4 96.6 L454.2 98.1 L452.6 96.9 L449.0 96.9 M358.0 91.8 L359.7 91.9 L362.2 92.9 L365.2 95.3 L365.4 95.8 L363.6 95.5 L361.7 94.4 L358.7 92.7 L358.0 91.8 M350.6 86.5 L352.2 86.7 L353.8 89.5 L352.2 88.6 L350.6 86.5 M323.0 81.2 L325.2 80.0 L326.1 81.2 L324.4 82.3 L323.0 81.2 M443.3 98.3 L446.5 98.9 L446.0 99.6 L443.3 98.3 M439.9 93.2 L443.8 94.2 L441.8 94.2 L439.9 93.2 M393.2 52.0 L394.8 49.9 L395.4 48.5 L398.5 47.7 L406.5 47.3 L413.5 46.4 L419.8 46.2 L426.7 46.5 L433.8 47.7 L442.1 48.2 L441.4 49.9 L443.7 51.6 L446.5 53.4 L450.6 55.4 L451.5 56.7 L452.2 58.0 L454.8 60.0 L458.4 62.0 L458.2 63.0 L457.8 64.7 L454.5 65.4 L452.8 66.3 L453.0 67.7 L450.5 69.0 L448.8 69.9 L450.2 72.1 L451.6 75.1 L452.6 77.7 L449.9 76.9 L446.1 76.0 L442.8 74.3 L438.8 72.1 L437.0 71.1 L434.1 69.1 L430.7 67.1 L429.2 65.5 L430.4 64.1 L428.9 62.9 L425.1 62.7 L423.6 61.6 L426.1 61.4 L421.3 60.0 L417.8 58.0 L413.7 56.0 L409.5 54.7 L403.6 54.7 L400.2 54.3 L397.1 53.4 L397.7 52.8 L393.2 52.0 M424.2 73.6 L420.2 72.8 L414.3 71.3 L410.9 70.6 L407.1 70.8 L406.5 69.3 L410.2 69.1 L409.5 67.7 L409.3 66.3 L405.6 65.1 L401.9 63.4 L399.2 62.7 L397.0 62.7 L393.3 62.7 L389.1 62.0 L386.3 60.7 L384.0 58.6 L385.1 57.6 L388.2 57.7 L391.2 57.7 L394.4 59.3 L397.3 58.6 L398.6 58.9 L402.1 60.4 L406.2 61.4 L410.0 62.5 L413.0 63.8 L412.9 64.8 L418.2 65.8 L421.5 67.0 L422.8 67.5 L422.7 69.4 L420.2 69.1 L415.6 67.7 L421.6 70.6 L424.1 72.1 L424.2 73.6 M395.8 69.1 L397.7 68.7 L399.2 68.6 L403.0 70.6 L405.1 71.8 L402.5 72.1 L400.0 72.5 L397.7 71.8 L398.0 70.6 L395.8 69.1 M357.8 60.7 L359.9 59.0 L363.7 58.6 L367.4 58.2 L369.3 59.3 L373.4 60.7 L375.9 62.7 L375.3 64.1 L371.4 63.8 L368.5 64.4 L364.5 64.8 L360.6 63.7 L358.1 62.0 L360.5 61.8 L357.8 60.7 M348.6 60.0 L351.8 61.1 L354.7 60.7 L355.9 59.3 L355.7 57.3 L352.2 56.7 L348.9 56.9 L348.6 60.0 M391.4 54.3 L388.2 54.1 L381.4 54.1 L378.6 52.8 L380.5 51.6 L377.4 49.9 L371.2 48.5 L374.3 47.5 L379.3 46.7 L387.9 46.6 L395.0 47.2 L395.8 48.2 L393.9 49.3 L391.9 50.4 L389.0 51.0 L391.1 52.2 L391.4 54.3 M391.4 56.0 L390.1 56.7 L384.2 56.7 L379.8 56.3 L378.0 54.5 L381.6 54.2 L387.7 54.5 L390.4 55.1 L391.4 56.0 M369.2 49.9 L375.1 51.8 L379.8 51.8 L379.0 50.4 L374.0 49.3 L370.3 48.5 L369.2 49.9 M354.6 55.7 L360.3 56.8 L365.7 56.0 L364.6 54.7 L360.0 53.9 L355.3 54.1 L354.6 55.7 M366.5 54.7 L371.6 56.0 L374.0 55.4 L371.6 53.9 L367.9 54.1 L366.5 54.7 M371.3 58.0 L375.1 60.3 L378.4 60.5 L377.4 58.6 L374.8 57.3 L371.3 58.0 M377.3 57.3 L381.6 60.0 L383.5 58.6 L381.8 57.3 L377.3 57.3 M378.2 63.7 L381.6 64.7 L382.8 64.1 L381.4 63.0 L378.6 62.9 L378.2 63.7 M347.7 54.3 L353.1 55.0 L353.6 53.1 L349.6 52.8 L347.7 54.3 M136.7 50.4 L140.7 49.9 L145.3 49.9 L150.6 49.5 L152.6 49.9 L145.6 51.0 L142.9 51.8 L138.6 52.8 L134.9 53.9 L134.0 53.4 L135.1 52.2 L134.0 51.6 L136.7 50.4 M144.8 49.6 L149.2 49.3 L153.0 49.6 L149.3 50.5 L145.6 50.5 L144.8 49.6 M159.4 60.4 L159.4 61.6 L163.3 61.9 L164.0 60.0 L166.7 58.2 L170.7 56.7 L176.6 55.2 L184.7 53.6 L184.6 54.3 L177.1 55.6 L171.9 57.3 L167.4 59.3 L163.6 61.6 L161.9 61.8 L160.3 60.9 L159.4 60.4 M213.7 50.8 L218.3 50.0 L222.0 50.8 L217.2 51.8 L221.9 51.8 L218.1 52.8 L215.2 52.0 L213.7 50.8 M215.0 49.6 L218.5 48.5 L218.1 49.3 L215.0 49.6 M250.0 55.6 L253.4 54.7 L258.0 55.4 L263.3 55.7 L258.6 56.3 L252.6 56.4 L250.0 55.6 M251.9 58.0 L255.5 58.0 L254.2 57.4 L251.9 58.0 M292.9 60.7 L295.0 61.1 L294.5 61.6 L300.8 61.6 L307.2 61.6 L313.5 61.6 L319.9 61.6 L326.2 61.6 L332.6 61.6 L338.9 61.6 L345.3 61.6 L351.6 61.6 L358.0 61.6 L364.3 61.6 L370.7 61.6 L377.0 61.6 L383.4 61.6 L389.7 61.6 L396.1 61.6 L402.4 61.5 L408.7 61.5 L415.1 61.5 L421.4 61.5 L427.8 61.5 L434.1 61.5 L440.5 61.5 L446.8 61.5 L453.1 61.5 L459.5 61.5 L465.8 61.5 L472.2 61.5 L478.5 61.5 L480.6 61.5 M104.2 61.5 L108.4 61.5 L114.8 61.5 L121.1 61.5 L127.5 61.5 L133.8 61.5 L140.2 61.5 L146.5 61.5 L152.9 61.5 L159.2 61.4 L165.6 61.4 L171.9 61.4 L178.3 61.4 L184.6 61.4 L190.9 61.4 L197.3 61.4 L203.6 61.4 L210.0 61.4 L216.3 61.4 L222.7 61.4 L229.0 61.4 L235.3 61.4 L241.7 61.4 L248.0 61.4 L254.4 61.4 L260.7 61.4 L267.0 61.4 L273.4 61.4 L279.7 61.4 L286.1 61.4 L292.4 61.4 L291.0 61.2 L284.7 61.2 L278.4 61.2 L272.1 61.2 L265.7 61.2 L259.4 61.2 L253.1 61.2 L246.7 61.1 L240.4 61.1 L234.1 61.1 L227.8 61.1 L221.4 61.1 L215.1 61.1 L208.8 61.1 L202.5 61.1 L196.2 61.1 L189.9 61.1 L183.5 61.1 L177.2 61.0 L170.9 61.0 L164.6 61.0 L158.3 61.0 L152.0 61.0 L145.7 61.0 L139.4 61.0 L133.1 61.0 L126.8 61.0 L120.5 61.0 L114.1 61.0 L107.8 60.9 L105.1 60.9 M479.7 60.9 L476.1 60.9 L469.8 60.9 L463.4 60.9 L457.1 60.9 L450.8 60.9 L444.5 60.9 L438.1 60.9 L431.8 60.9 L425.5 60.9 L419.2 60.9 L412.8 60.8 L406.5 60.8 L400.2 60.8 L393.9 60.8 L387.6 60.8 L381.2 60.8 L374.9 60.8 L368.6 60.8 L362.3 60.8 L356.0 60.8 L349.7 60.8 L343.4 60.7 L337.1 60.7 L330.7 60.7 L324.4 60.7 L318.1 60.7 L311.8 60.7 L305.5 60.7 L299.2 60.7 L292.9 60.7 M171.3 49.6 L176.1 49.0 L182.2 48.5 L187.2 48.2 L189.1 48.8 L183.3 49.5 L178.4 49.7 L173.4 50.0 L171.3 49.6 M292.4 306.6 L298.1 306.8 L303.7 307.1 L310.6 307.1 L317.6 307.2 L322.4 306.6 L317.7 305.1 L320.1 303.0 L313.1 302.3 L308.2 300.9 L311.9 299.7 L320.2 298.6 L327.3 297.8 L338.9 296.0 L348.3 295.3 L352.9 294.3 L359.9 294.9 L366.7 293.8 L371.4 292.6 L376.8 292.3 L380.7 293.2 L390.1 293.4 L398.6 293.1 L400.0 292.4 L401.8 293.0 L406.2 292.7 L409.1 291.3 L407.7 290.2 L402.8 290.6 L400.0 292.4 L401.0 292.4 L409.7 288.4 L415.1 284.9 L422.0 282.3 L430.1 280.2 L423.8 283.1 L417.7 286.6 L415.9 289.3 L410.7 295.5 L402.9 297.3 L392.4 298.2 L387.1 300.9 L388.0 302.9 L397.5 303.4 L403.9 302.7 L405.3 303.5 L411.3 302.6 L415.0 302.4 L425.7 302.0 L430.7 301.3 L427.4 299.9 L432.7 298.2 L441.4 296.3 L455.2 294.3 L467.6 291.9 L478.1 290.1 L482.0 289.7 M102.8 289.7 L102.8 289.7 L113.1 289.5 L123.7 289.5 L134.4 288.6 L141.6 288.7 L146.1 285.7 L151.5 283.1 L156.9 283.4 L163.3 286.2 L171.6 286.6 L173.8 288.4 L176.8 291.5 L179.8 291.7 L180.3 289.0 L184.3 286.3 L194.7 285.2 L205.3 284.5 L208.0 283.1 L210.5 284.7 L218.5 283.7 L226.3 284.5 L234.1 283.8 L242.0 283.1 L246.0 284.5 L252.7 285.7 L260.5 287.9 L267.9 288.2 L273.4 289.7 L278.8 290.6 L281.5 291.3 L278.0 294.9 L280.4 297.3 L275.2 299.7 L274.5 301.9 L280.4 303.6 L285.0 305.6 L292.4 306.6 M327.1 142.4 L328.5 142.9 L328.8 143.5 L327.6 144.5 L327.1 143.2 L327.1 142.4 M326.0 141.0 L327.0 141.4 L326.5 141.7 L326.0 141.0 M323.8 140.2 L324.5 140.4 L324.1 140.5 L323.8 140.2 M321.6 139.2 L322.2 139.2 L321.9 139.5 L321.6 139.2 M149.5 257.3 L151.5 257.5 L151.8 258.3 L150.3 258.3 L149.5 257.3 M272.9 200.6 L273.9 202.6 L273.6 201.0 L272.9 200.6 M275.1 204.6 L275.7 205.6 L275.3 205.6 L275.1 204.6" fill="none" stroke="#5e5e5e" stroke-width="0.85" stroke-linejoin="round"/>
<path d="M102.1 289.3 L482.7 289.3 M62.6 258.9 L522.2 258.9 M38.2 226 L546.6 226 M28.9 192.7 L555.9 192.7 M28.9 159.3 L555.9 159.3 M38.2 126 L546.6 126 M62.6 93.1 L522.2 93.1 M102.1 62.7 L482.7 62.7" fill="none" stroke="#000" stroke-width="1.35"/>
<path d="M198.5 310.3 L195.2 308.9 L191.4 307.1 L187.2 304.8 L182.7 302.1 L178.1 299.2 L173.6 296 L169.4 292.7 L165.6 289.3 L161.9 285.7 L158.3 282.1 L154.8 278.4 L151.4 274.6 L148.2 270.8 L145 266.9 L142 262.9 L139.2 258.9 L136.6 254.9 L134.2 250.8 L131.9 246.7 L129.7 242.6 L127.8 238.4 L126 234.3 L124.4 230.1 L123 226 L121.7 221.8 L120.7 217.6 L119.8 213.5 L119 209.3 L118.3 205.1 L117.7 201 L117.1 196.8 L116.7 192.7 L116.4 188.5 L116.1 184.3 L116 180.2 L115.9 176 L116 171.8 L116.1 167.7 L116.4 163.5 L116.7 159.3 L117.1 155.2 L117.7 151 L118.3 146.9 L119 142.7 L119.8 138.5 L120.7 134.4 L121.7 130.2 L123 126 L124.4 121.9 L126 117.7 L127.8 113.6 L129.7 109.4 L131.9 105.3 L134.2 101.2 L136.6 97.1 L139.2 93.1 L142 89.1 L145 85.1 L148.2 81.2 L151.4 77.4 L154.8 73.6 L158.3 69.9 L161.9 66.3 L165.6 62.7 L169.4 59.3 L173.6 56 L178.1 52.8 L182.7 49.9 L187.2 47.2 L191.4 44.9 L195.2 43.1 L198.5 41.7 M245.4 310.3 L243.8 308.9 L241.9 307.1 L239.8 304.8 L237.6 302.1 L235.2 299.2 L233 296 L230.9 292.7 L229 289.3 L227.1 285.7 L225.4 282.1 L223.6 278.4 L221.9 274.6 L220.3 270.8 L218.7 266.9 L217.2 262.9 L215.8 258.9 L214.5 254.9 L213.3 250.8 L212.1 246.7 L211.1 242.6 L210.1 238.4 L209.2 234.3 L208.4 230.1 L207.7 226 L207.1 221.8 L206.5 217.6 L206.1 213.5 L205.7 209.3 L205.4 205.1 L205 201 L204.8 196.8 L204.6 192.7 L204.4 188.5 L204.3 184.3 L204.2 180.2 L204.1 176 L204.2 171.8 L204.3 167.7 L204.4 163.5 L204.6 159.3 L204.8 155.2 L205 151 L205.4 146.9 L205.7 142.7 L206.1 138.5 L206.5 134.4 L207.1 130.2 L207.7 126 L208.4 121.9 L209.2 117.7 L210.1 113.6 L211.1 109.4 L212.1 105.3 L213.3 101.2 L214.5 97.1 L215.8 93.1 L217.2 89.1 L218.7 85.1 L220.3 81.2 L221.9 77.4 L223.6 73.6 L225.4 69.9 L227.1 66.3 L229 62.7 L230.9 59.3 L233 56 L235.2 52.8 L237.6 49.9 L239.8 47.2 L241.9 44.9 L243.8 43.1 L245.4 41.7 M292.4 310.3 L292.4 308.9 L292.4 307.1 L292.4 304.8 L292.4 302.1 L292.4 299.2 L292.4 296 L292.4 292.7 L292.4 289.3 L292.4 285.7 L292.4 282.1 L292.4 278.4 L292.4 274.6 L292.4 270.8 L292.4 266.9 L292.4 262.9 L292.4 258.9 L292.4 254.9 L292.4 250.8 L292.4 246.7 L292.4 242.6 L292.4 238.4 L292.4 234.3 L292.4 230.1 L292.4 226 L292.4 221.8 L292.4 217.6 L292.4 213.5 L292.4 209.3 L292.4 205.1 L292.4 201 L292.4 196.8 L292.4 192.7 L292.4 188.5 L292.4 184.3 L292.4 180.2 L292.4 176 L292.4 171.8 L292.4 167.7 L292.4 163.5 L292.4 159.3 L292.4 155.2 L292.4 151 L292.4 146.9 L292.4 142.7 L292.4 138.5 L292.4 134.4 L292.4 130.2 L292.4 126 L292.4 121.9 L292.4 117.7 L292.4 113.6 L292.4 109.4 L292.4 105.3 L292.4 101.2 L292.4 97.1 L292.4 93.1 L292.4 89.1 L292.4 85.1 L292.4 81.2 L292.4 77.4 L292.4 73.6 L292.4 69.9 L292.4 66.3 L292.4 62.7 L292.4 59.3 L292.4 56 L292.4 52.8 L292.4 49.9 L292.4 47.2 L292.4 44.9 L292.4 43.1 L292.4 41.7 M339.4 310.3 L341 308.9 L342.9 307.1 L345 304.8 L347.2 302.1 L349.6 299.2 L351.8 296 L353.9 292.7 L355.8 289.3 L357.7 285.7 L359.4 282.1 L361.2 278.4 L362.9 274.6 L364.5 270.8 L366.1 266.9 L367.6 262.9 L369 258.9 L370.3 254.9 L371.5 250.8 L372.7 246.7 L373.7 242.6 L374.7 238.4 L375.6 234.3 L376.4 230.1 L377.1 226 L377.7 221.8 L378.3 217.6 L378.7 213.5 L379.1 209.3 L379.4 205.1 L379.8 201 L380 196.8 L380.2 192.7 L380.4 188.5 L380.5 184.3 L380.6 180.2 L380.7 176 L380.6 171.8 L380.5 167.7 L380.4 163.5 L380.2 159.3 L380 155.2 L379.8 151 L379.4 146.9 L379.1 142.7 L378.7 138.5 L378.3 134.4 L377.7 130.2 L377.1 126 L376.4 121.9 L375.6 117.7 L374.7 113.6 L373.7 109.4 L372.7 105.3 L371.5 101.2 L370.3 97.1 L369 93.1 L367.6 89.1 L366.1 85.1 L364.5 81.2 L362.9 77.4 L361.2 73.6 L359.4 69.9 L357.7 66.3 L355.8 62.7 L353.9 59.3 L351.8 56 L349.6 52.8 L347.2 49.9 L345 47.2 L342.9 44.9 L341 43.1 L339.4 41.7 M386.3 310.3 L389.6 308.9 L393.4 307.1 L397.6 304.8 L402.1 302.1 L406.7 299.2 L411.2 296 L415.4 292.7 L419.2 289.3 L422.9 285.7 L426.5 282.1 L430 278.4 L433.4 274.6 L436.6 270.8 L439.8 266.9 L442.8 262.9 L445.6 258.9 L448.2 254.9 L450.6 250.8 L452.9 246.7 L455.1 242.6 L457 238.4 L458.8 234.3 L460.4 230.1 L461.8 226 L463.1 221.8 L464.1 217.6 L465 213.5 L465.8 209.3 L466.5 205.1 L467.1 201 L467.7 196.8 L468.1 192.7 L468.4 188.5 L468.7 184.3 L468.8 180.2 L468.9 176 L468.8 171.8 L468.7 167.7 L468.4 163.5 L468.1 159.3 L467.7 155.2 L467.1 151 L466.5 146.9 L465.8 142.7 L465 138.5 L464.1 134.4 L463.1 130.2 L461.8 126 L460.4 121.9 L458.8 117.7 L457 113.6 L455.1 109.4 L452.9 105.3 L450.6 101.2 L448.2 97.1 L445.6 93.1 L442.8 89.1 L439.8 85.1 L436.6 81.2 L433.4 77.4 L430 73.6 L426.5 69.9 L422.9 66.3 L419.2 62.7 L415.4 59.3 L411.2 56 L406.7 52.8 L402.1 49.9 L397.6 47.2 L393.4 44.9 L389.6 43.1 L386.3 41.7" fill="none" stroke="#000" stroke-width="1.55"/>
<path d="M151.5 310.3 L146.6 308.9 L140.9 307.1 L134.6 304.8 L127.9 302.1 L120.9 299.2 L114.2 296 L107.9 292.7 L102.1 289.3 L96.6 285.7 L91.3 282.1 L86 278.4 L81 274.6 L76 270.8 L71.3 266.9 L66.8 262.9 L62.6 258.9 L58.7 254.9 L55.1 250.8 L51.6 246.7 L48.4 242.6 L45.5 238.4 L42.8 234.3 L40.4 230.1 L38.2 226 L36.4 221.8 L34.8 217.6 L33.5 213.5 L32.4 209.3 L31.3 205.1 L30.3 201 L29.5 196.8 L28.9 192.7 L28.4 188.5 L28 184.3 L27.7 180.2 L27.6 176 L27.7 171.8 L28 167.7 L28.4 163.5 L28.9 159.3 L29.5 155.2 L30.3 151 L31.3 146.9 L32.4 142.7 L33.5 138.5 L34.8 134.4 L36.4 130.2 L38.2 126 L40.4 121.9 L42.8 117.7 L45.5 113.6 L48.4 109.4 L51.6 105.3 L55.1 101.2 L58.7 97.1 L62.6 93.1 L66.8 89.1 L71.3 85.1 L76 81.2 L81 77.4 L86 73.6 L91.3 69.9 L96.6 66.3 L102.1 62.7 L107.9 59.3 L114.2 56 L120.9 52.8 L127.9 49.9 L134.6 47.2 L140.9 44.9 L146.6 43.1 L151.5 41.7 L433.3 41.7 L438.2 43.1 L443.9 44.9 L450.2 47.2 L456.9 49.9 L463.9 52.8 L470.6 56 L476.9 59.3 L482.7 62.7 L488.2 66.3 L493.5 69.9 L498.8 73.6 L503.8 77.4 L508.8 81.2 L513.5 85.1 L518 89.1 L522.2 93.1 L526.1 97.1 L529.7 101.2 L533.2 105.3 L536.4 109.4 L539.3 113.6 L542 117.7 L544.4 121.9 L546.6 126 L548.4 130.2 L550 134.4 L551.3 138.5 L552.4 142.7 L553.5 146.9 L554.5 151 L555.3 155.2 L555.9 159.3 L556.4 163.5 L556.8 167.7 L557.1 171.8 L557.2 176 L557.1 180.2 L556.8 184.3 L556.4 188.5 L555.9 192.7 L555.3 196.8 L554.5 201 L553.5 205.1 L552.4 209.3 L551.3 213.5 L550 217.6 L548.4 221.8 L546.6 226 L544.4 230.1 L542 234.3 L539.3 238.4 L536.4 242.6 L533.2 246.7 L529.7 250.8 L526.1 254.9 L522.2 258.9 L518 262.9 L513.5 266.9 L508.8 270.8 L503.8 274.6 L498.8 278.4 L493.5 282.1 L488.2 285.7 L482.7 289.3 L476.9 292.7 L470.6 296 L463.9 299.2 L456.9 302.1 L450.2 304.8 L443.9 307.1 L438.2 308.9 L433.3 310.3Z" fill="none" stroke="#000" stroke-width="1.9" stroke-linejoin="miter"/>
<text x="161.9" y="305.3" class="num">1</text>
<text x="212.4" y="305.3" class="num">2</text>
<text x="262.9" y="305.3" class="num">3</text>
<text x="313.4" y="305.3" class="num">4</text>
<text x="363.9" y="305.3" class="num">5</text>
<text x="414.4" y="305.3" class="num">6</text>
<text x="119.2" y="280.3" class="num">7</text>
<text x="186.2" y="280.3" class="num">8</text>
<text x="253.3" y="280.3" class="num">9</text>
<text x="320.3" y="280.3" class="num">10</text>
<text x="387.4" y="280.3" class="num">11</text>
<text x="454.4" y="280.3" class="num">12</text>
<text x="88.1" y="249" class="num">13</text>
<text x="167.2" y="249" class="num">14</text>
<text x="246.3" y="249" class="num">15</text>
<text x="325.4" y="249" class="num">16</text>
<text x="404.4" y="249" class="num">17</text>
<text x="483.5" y="249" class="num">18</text>
<text x="70.6" y="215.8" class="num">19</text>
<text x="156.4" y="215.8" class="num">20</text>
<text x="242.3" y="215.8" class="num">21</text>
<text x="328.2" y="215.8" class="num">22</text>
<text x="414.1" y="215.8" class="num">23</text>
<text x="499.9" y="215.8" class="num">24</text>
<text x="64.7" y="182.5" class="num">25</text>
<text x="152.9" y="182.5" class="num">26</text>
<text x="241" y="182.5" class="num">27</text>
<text x="329.1" y="182.5" class="num">28</text>
<text x="417.3" y="182.5" class="num">29</text>
<text x="505.4" y="182.5" class="num">30</text>
<text x="66.7" y="149.2" class="num">31</text>
<text x="154.1" y="149.2" class="num">32</text>
<text x="241.4" y="149.2" class="num">33</text>
<text x="328.8" y="149.2" class="num">34</text>
<text x="416.2" y="149.2" class="num">35</text>
<text x="503.5" y="149.2" class="num">36</text>
<text x="77.5" y="115.9" class="num">37</text>
<text x="160.7" y="115.9" class="num">38</text>
<text x="243.9" y="115.9" class="num">39</text>
<text x="327.1" y="115.9" class="num">40</text>
<text x="410.3" y="115.9" class="num">41</text>
<text x="493.5" y="115.9" class="num">42</text>
<text x="102" y="83.3" class="num">43</text>
<text x="175.7" y="83.3" class="num">44</text>
<text x="249.4" y="83.3" class="num">45</text>
<text x="323.1" y="83.3" class="num">46</text>
<text x="396.8" y="83.3" class="num">47</text>
<text x="470.5" y="83.3" class="num">48</text>
<text x="138.9" y="54.2" class="num">49</text>
<text x="198.3" y="54.2" class="num">50</text>
<text x="257.7" y="54.2" class="num">51</text>
<text x="317.2" y="54.2" class="num">52</text>
<text x="376.6" y="54.2" class="num">53</text>
<text x="436" y="54.2" class="num">54</text>
<text x="93.7" y="292.5" class="lat">70°S</text>
<text x="57.1" y="262.2" class="lat">50°S</text>
<text x="33.2" y="229.2" class="lat">30°S</text>
<text x="23.4" y="195.9" class="lat">10°S</text>
<text x="23.4" y="162.6" class="lat">10°N</text>
<text x="33.2" y="129.3" class="lat">30°N</text>
<text x="57.1" y="96.3" class="lat">50°N</text>
<text x="93.7" y="66" class="lat">70°N</text>
<text x="147.5" y="325.5" class="lon">0°</text>
<text x="198.6" y="325.5" class="lon">60°E</text>
<text x="245.5" y="325.5" class="lon">120°E</text>
<text x="292.5" y="325.5" class="lon">180°W</text>
<text x="339.5" y="325.5" class="lon">120°W</text>
<text x="386.4" y="325.5" class="lon">60°W</text>
<text x="292.1" y="33.8" class="title">Mean [1981-2022]</text>
</g>
<g>
<path d="M116.7 508.7 L117.1 504.6 L117.7 500.4 L118.3 496.3 L119 492.1 L119.8 487.9 L120.7 483.8 L121.7 479.6 L123 475.4 L207.7 475.4 L207.1 479.6 L206.5 483.8 L206.1 487.9 L205.7 492.1 L205.4 496.3 L205 500.4 L204.8 504.6 L204.6 508.7Z" fill="#fdfdf1"/>
<path d="M204.6 508.7 L204.8 504.6 L205 500.4 L205.4 496.3 L205.7 492.1 L206.1 487.9 L206.5 483.8 L207.1 479.6 L207.7 475.4 L292.4 475.4 L292.4 479.6 L292.4 483.8 L292.4 487.9 L292.4 492.1 L292.4 496.3 L292.4 500.4 L292.4 504.6 L292.4 508.7Z" fill="#f9f8d0"/>
<path d="M380.2 508.7 L380 504.6 L379.8 500.4 L379.4 496.3 L379.1 492.1 L378.7 487.9 L378.3 483.8 L377.7 479.6 L377.1 475.4 L461.8 475.4 L463.1 479.6 L464.1 483.8 L465 487.9 L465.8 492.1 L466.5 496.3 L467.1 500.4 L467.7 504.6 L468.1 508.7Z" fill="#f3f0a6"/>
<path d="M468.1 508.7 L467.7 504.6 L467.1 500.4 L466.5 496.3 L465.8 492.1 L465 487.9 L464.1 483.8 L463.1 479.6 L461.8 475.4 L546.6 475.4 L548.4 479.6 L550 483.8 L551.3 487.9 L552.4 492.1 L553.5 496.3 L554.5 500.4 L555.3 504.6 L555.9 508.7Z" fill="#fdfdf1"/>
<path d="M377.1 475.4 L376.4 471.3 L375.6 467.1 L374.7 463 L373.7 458.8 L372.7 454.7 L371.5 450.6 L370.3 446.5 L369 442.5 L445.6 442.5 L448.2 446.5 L450.6 450.6 L452.9 454.7 L455.1 458.8 L457 463 L458.8 467.1 L460.4 471.3 L461.8 475.4Z" fill="#f9f8d0"/>
<path d="M461.8 475.4 L460.4 471.3 L458.8 467.1 L457 463 L455.1 458.8 L452.9 454.7 L450.6 450.6 L448.2 446.5 L445.6 442.5 L522.2 442.5 L526.1 446.5 L529.7 450.6 L533.2 454.7 L536.4 458.8 L539.3 463 L542 467.1 L544.4 471.3 L546.6 475.4Z" fill="#fdfdf1"/>
<path d="M62.6 442.5 L66.8 438.5 L71.3 434.5 L76 430.6 L81 426.8 L86 423 L91.3 419.3 L96.6 415.7 L102.1 412.1 L165.6 412.1 L161.9 415.7 L158.3 419.3 L154.8 423 L151.4 426.8 L148.2 430.6 L145 434.5 L142 438.5 L139.2 442.5Z" fill="#ea552e"/>
<path d="M139.2 442.5 L142 438.5 L145 434.5 L148.2 430.6 L151.4 426.8 L154.8 423 L158.3 419.3 L161.9 415.7 L165.6 412.1 L229 412.1 L227.1 415.7 L225.4 419.3 L223.6 423 L221.9 426.8 L220.3 430.6 L218.7 434.5 L217.2 438.5 L215.8 442.5Z" fill="#d12c2c"/>
<path d="M215.8 442.5 L217.2 438.5 L218.7 434.5 L220.3 430.6 L221.9 426.8 L223.6 423 L225.4 419.3 L227.1 415.7 L229 412.1 L292.4 412.1 L292.4 415.7 L292.4 419.3 L292.4 423 L292.4 426.8 L292.4 430.6 L292.4 434.5 L292.4 438.5 L292.4 442.5Z" fill="#f3f0a6"/>
<path d="M292.4 442.5 L292.4 438.5 L292.4 434.5 L292.4 430.6 L292.4 426.8 L292.4 423 L292.4 419.3 L292.4 415.7 L292.4 412.1 L355.8 412.1 L357.7 415.7 L359.4 419.3 L361.2 423 L362.9 426.8 L364.5 430.6 L366.1 434.5 L367.6 438.5 L369 442.5Z" fill="#f9f8d0"/>
<path d="M369 442.5 L367.6 438.5 L366.1 434.5 L364.5 430.6 L362.9 426.8 L361.2 423 L359.4 419.3 L357.7 415.7 L355.8 412.1 L419.2 412.1 L422.9 415.7 L426.5 419.3 L430 423 L433.4 426.8 L436.6 430.6 L439.8 434.5 L442.8 438.5 L445.6 442.5Z" fill="#b52326"/>
<path d="M445.6 442.5 L442.8 438.5 L439.8 434.5 L436.6 430.6 L433.4 426.8 L430 423 L426.5 419.3 L422.9 415.7 L419.2 412.1 L482.7 412.1 L488.2 415.7 L493.5 419.3 L498.8 423 L503.8 426.8 L508.8 430.6 L513.5 434.5 L518 438.5 L522.2 442.5Z" fill="#ffffff"/>
<path d="M102.1 412.1 L107.9 408.7 L114.2 405.4 L120.9 402.2 L127.9 399.3 L134.6 396.6 L140.9 394.3 L146.6 392.5 L151.5 391.1 L198.5 391.1 L195.2 392.5 L191.4 394.3 L187.2 396.6 L182.7 399.3 L178.1 402.2 L173.6 405.4 L169.4 408.7 L165.6 412.1Z" fill="#e6f5fa"/>
<path d="M165.6 412.1 L169.4 408.7 L173.6 405.4 L178.1 402.2 L182.7 399.3 L187.2 396.6 L191.4 394.3 L195.2 392.5 L198.5 391.1 L245.4 391.1 L243.8 392.5 L241.9 394.3 L239.8 396.6 L237.6 399.3 L235.2 402.2 L233 405.4 L230.9 408.7 L229 412.1Z" fill="#8f1b1f"/>
<path d="M229 412.1 L230.9 408.7 L233 405.4 L235.2 402.2 L237.6 399.3 L239.8 396.6 L241.9 394.3 L243.8 392.5 L245.4 391.1 L292.4 391.1 L292.4 392.5 L292.4 394.3 L292.4 396.6 L292.4 399.3 L292.4 402.2 L292.4 405.4 L292.4 408.7 L292.4 412.1Z" fill="#ee9436"/>
<path d="M292.4 412.1 L292.4 408.7 L292.4 405.4 L292.4 402.2 L292.4 399.3 L292.4 396.6 L292.4 394.3 L292.4 392.5 L292.4 391.1 L339.4 391.1 L341 392.5 L342.9 394.3 L345 396.6 L347.2 399.3 L349.6 402.2 L351.8 405.4 L353.9 408.7 L355.8 412.1Z" fill="#f3f0a6"/>
<path d="M355.8 412.1 L353.9 408.7 L351.8 405.4 L349.6 402.2 L347.2 399.3 L345 396.6 L342.9 394.3 L341 392.5 L339.4 391.1 L386.3 391.1 L389.6 392.5 L393.4 394.3 L397.6 396.6 L402.1 399.3 L406.7 402.2 L411.2 405.4 L415.4 408.7 L419.2 412.1Z" fill="#d12c2c"/>
<path d="M419.2 412.1 L415.4 408.7 L411.2 405.4 L406.7 402.2 L402.1 399.3 L397.6 396.6 L393.4 394.3 L389.6 392.5 L386.3 391.1 L433.3 391.1 L438.2 392.5 L443.9 394.3 L450.2 396.6 L456.9 399.3 L463.9 402.2 L470.6 405.4 L476.9 408.7 L482.7 412.1Z" fill="#f3f0a6"/>
<path d="M533.0 465.8 L539.1 467.0 L540.4 466.0 L541.1 465.7 M43.7 465.7 L48.8 464.1 L54.5 463.8 L58.7 463.3 L60.0 463.8 L55.9 468.8 L56.5 470.1 L59.2 470.6 L61.6 471.4 L64.0 474.6 L66.6 474.4 L68.1 471.9 L71.0 470.6 L73.6 472.1 L75.0 472.8 L79.8 473.9 L81.4 473.4 L83.8 472.9 L84.7 473.4 L87.4 473.3 L84.1 475.4 L84.2 479.1 L84.4 482.9 L85.2 485.4 L86.3 489.6 L86.0 492.8 L87.3 495.4 L88.0 499.4 L90.1 501.3 L92.0 503.8 L92.7 504.6 L92.3 506.1 L94.1 508.1 L97.9 506.8 L100.8 506.6 L103.6 505.6 L104.3 505.8 L103.9 508.1 L101.8 512.1 L100.1 515.4 L98.5 517.9 L94.3 522.1 L90.2 526.1 L88.7 528.2 L86.9 529.7 L86.2 532.2 L85.1 535.6 L85.9 536.7 L86.5 539.6 L88.1 542.9 L88.8 546.2 L89.6 549.5 L88.9 552.4 L86.3 554.2 L85.1 555.4 L82.7 558.4 L84.4 562.0 L85.2 565.4 L82.3 568.5 L82.9 570.4 L81.9 575.2 L81.5 577.5 L79.8 580.3 L77.6 582.0 L73.2 582.2 L70.4 583.3 L67.6 582.3 L66.1 579.7 L63.0 576.2 L60.5 573.0 L57.4 569.7 L54.5 563.5 L52.0 560.0 L48.6 555.4 L48.0 552.9 L47.9 549.5 L49.1 546.4 L49.2 543.2 L48.0 540.1 L46.2 535.6 L45.3 533.4 L44.0 531.6 L41.9 529.4 L40.6 526.6 L41.5 524.7 L41.8 521.7 L42.2 520.2 L42.0 518.9 L41.0 517.9 L40.4 517.7 L38.2 518.1 L36.7 518.2 L36.0 516.7 L33.2 514.7 L29.9 515.2 L28.1 516.0 M556.7 516.0 L556.4 516.1 L553.7 517.6 L550.9 516.7 L548.0 517.4 L545.6 518.1 L540.8 514.9 L538.1 513.1 L536.9 511.2 L536.0 509.6 L533.8 507.1 L532.7 505.6 L530.9 504.8 L530.8 502.9 L529.1 500.9 L530.1 498.8 L529.7 495.4 L529.2 492.9 L527.6 490.8 L527.6 487.1 L527.8 485.9 L528.8 484.3 L528.7 481.9 L529.5 479.3 L529.8 478.9 L531.4 477.9 L532.8 476.4 L532.7 474.8 L531.6 473.1 L531.7 471.6 L532.8 469.5 L533.5 468.8 L533.2 466.8 L533.0 465.8 M101.4 545.4 L103.9 551.0 L103.4 553.7 L103.1 555.4 L102.7 560.4 L102.3 566.9 L99.7 567.9 L96.8 564.7 L95.6 562.0 L96.4 558.7 L95.4 556.2 L95.3 552.4 L97.9 551.7 L99.8 549.7 L100.5 547.7 L101.4 545.4 M533.4 465.3 L531.7 464.6 L529.5 463.5 L527.5 463.8 L525.1 461.0 L524.1 458.5 L523.2 456.8 L520.1 453.9 L520.7 453.2 L523.9 452.9 L526.7 453.1 L529.5 453.2 L528.5 451.1 L526.8 449.0 L523.6 447.0 L520.0 446.0 L518.5 445.1 L520.2 444.4 L522.3 444.7 L520.6 443.0 L522.9 443.2 M61.9 443.2 L62.1 443.3 L66.1 441.0 L69.0 440.2 L71.0 439.3 L73.6 437.7 L77.0 437.0 L79.6 436.2 L81.8 434.7 L82.3 433.6 L85.1 431.2 L89.2 430.3 L86.8 432.0 L87.0 432.5 L84.0 434.2 L83.0 434.8 L82.8 435.4 L83.0 436.1 L84.8 435.8 L87.2 435.3 L87.0 436.2 L90.8 435.3 L93.3 435.4 L94.9 435.3 L97.6 434.0 L98.4 433.4 L100.1 431.7 L102.0 430.6 L103.6 430.3 L103.3 431.2 L104.2 431.4 L106.2 429.8 L107.0 429.2 L106.3 428.7 L107.2 428.0 L109.1 427.5 L113.0 427.5 L116.3 426.9 L115.5 425.8 L110.7 426.5 L107.5 427.1 L107.7 426.1 L107.8 425.2 L110.2 423.3 L111.9 422.1 L118.4 419.6 L119.6 419.3 L120.6 418.4 L119.7 418.1 L117.2 418.4 L114.3 419.9 L111.7 421.0 L108.9 421.9 L105.8 423.1 L103.0 425.2 L102.4 425.7 L101.0 427.8 L97.0 429.8 L94.4 431.8 L92.5 432.6 L89.7 433.7 L88.3 433.6 L89.0 432.6 L90.7 430.3 L92.3 428.3 L93.3 426.9 L91.1 428.3 L86.8 429.7 L85.4 429.8 L85.7 428.3 L88.0 426.1 L90.4 424.0 L93.1 423.0 L97.6 421.6 L103.0 419.4 L107.2 417.8 L111.9 415.9 L114.9 414.7 L121.6 412.5 L125.3 411.9 L128.6 411.2 L131.8 410.5 L133.9 410.8 L135.8 411.6 L132.9 412.4 L134.3 412.4 L135.3 413.5 L138.8 413.2 L140.6 415.2 L140.3 416.7 L136.1 417.7 L133.3 416.8 L131.3 416.2 L130.1 419.3 L129.2 420.2 L131.0 420.9 L132.9 420.0 L135.9 419.9 L136.8 418.5 L140.5 417.2 L143.1 417.1 L143.8 416.1 L145.7 414.0 L147.9 414.5 L145.8 416.4 L149.1 415.4 L155.5 414.5 L157.5 413.7 L158.0 414.2 L162.3 414.2 L165.8 412.4 L169.3 413.1 L170.8 414.2 L172.8 413.7 L172.5 412.5 L173.9 411.0 L176.8 409.8 L179.2 408.2 L180.7 407.8 L182.7 408.3 L180.4 410.8 L178.5 413.5 L174.3 416.4 L170.3 417.1 L173.4 417.4 L177.1 415.7 L179.6 413.5 L182.0 410.5 L184.8 408.7 L186.9 409.1 L186.4 410.8 L189.8 409.4 L190.5 411.4 L191.8 409.4 L192.0 407.4 L198.5 406.7 L200.3 405.4 L207.5 404.1 L213.4 403.6 L220.5 402.0 L222.0 402.5 L222.3 403.3 L226.3 403.2 L227.3 404.6 L221.8 406.5 L225.0 406.8 L225.7 407.2 L231.3 408.0 L235.1 407.4 L238.8 407.4 L240.4 408.7 L239.5 409.9 L241.7 410.9 L243.7 409.9 L248.2 410.2 L251.4 408.7 L250.4 410.1 L257.5 408.8 L261.3 409.9 L263.1 410.9 L270.7 412.5 L272.2 412.8 L275.4 412.5 L280.0 412.1 L282.2 413.5 L282.5 412.0 L288.2 412.4 L292.4 413.7 L295.6 414.5 L300.0 416.2 L303.4 417.7 L303.2 418.4 L301.1 420.2 L300.1 420.3 L297.4 419.6 L294.1 417.4 L292.1 419.3 L289.6 419.7 L291.3 422.2 L291.6 423.0 L289.0 423.3 L286.1 424.0 L283.1 425.2 L281.0 426.8 L276.2 426.8 L274.5 427.1 L272.9 426.9 L272.4 429.8 L270.8 430.1 L272.0 432.6 L270.3 434.8 L267.5 437.3 L265.5 437.8 L263.0 440.9 L263.1 437.7 L262.6 434.5 L263.4 431.4 L266.4 429.8 L271.1 426.0 L273.4 425.2 L274.1 423.0 L269.6 424.3 L265.4 424.5 L262.3 427.5 L257.9 427.5 L255.2 427.8 L251.0 427.8 L248.9 427.8 L245.1 430.1 L241.4 432.3 L237.2 435.0 L239.8 436.1 L239.4 436.7 L242.7 435.8 L244.3 437.2 L243.1 437.7 L243.7 438.9 L242.2 441.7 L241.4 444.1 L238.2 448.1 L235.0 450.9 L232.9 452.7 L228.4 453.7 L226.4 455.0 L224.5 457.5 L221.2 459.2 L222.0 461.1 L222.8 463.8 L222.5 466.3 L221.7 467.0 L219.5 467.6 L217.8 468.0 L218.5 465.5 L219.1 463.8 L219.1 463.0 L217.4 462.6 L216.9 462.0 L218.1 459.6 L216.9 459.0 L213.4 460.3 L212.8 460.6 L212.7 459.5 L214.3 457.7 L212.8 457.3 L210.3 459.0 L207.7 460.3 L207.7 461.6 L208.7 463.0 L211.3 462.5 L213.4 463.3 L211.1 464.5 L210.0 465.5 L208.1 467.1 L208.9 468.8 L209.7 470.5 L210.7 472.4 L210.6 473.8 L209.2 474.6 L210.5 475.4 L209.4 477.9 L207.8 479.6 L206.1 482.4 L203.9 484.6 L201.5 486.6 L197.9 488.1 L196.7 488.4 L194.1 489.4 L192.1 490.1 L192.0 491.6 L191.1 491.4 L191.1 489.6 L189.4 489.3 L188.5 489.6 L186.8 490.8 L185.1 493.4 L185.8 495.8 L187.2 497.8 L188.2 498.6 L189.1 501.3 L189.3 504.1 L188.9 506.1 L186.3 507.9 L185.3 508.1 L184.9 509.4 L182.8 510.9 L182.3 509.6 L182.6 508.2 L181.7 508.1 L180.6 507.7 L179.7 505.9 L178.7 505.1 L176.9 504.3 L177.0 503.1 L176.4 502.9 L175.7 503.3 L175.5 505.4 L174.3 507.4 L174.0 509.9 L175.3 511.2 L175.9 513.4 L177.4 513.9 L178.2 515.1 L179.9 517.4 L179.8 519.6 L179.9 521.1 L180.9 523.1 L180.0 523.2 L178.6 522.1 L176.8 520.6 L175.9 518.4 L175.5 516.4 L175.4 514.7 L174.6 513.9 L173.2 511.7 L172.6 512.2 L172.7 510.1 L173.3 507.9 L173.3 505.4 L172.9 502.6 L172.6 500.1 L172.7 497.9 L171.7 497.1 L170.7 497.6 L169.3 499.1 L167.8 498.8 L168.4 496.3 L168.3 494.1 L167.4 492.4 L166.6 491.6 L165.8 489.9 L165.5 488.3 L164.4 487.8 L163.6 488.4 L162.1 489.1 L160.2 489.3 L158.3 489.9 L158.0 491.1 L157.2 492.3 L156.3 492.4 L155.0 493.3 L153.5 494.9 L152.2 495.9 L150.5 497.6 L148.7 498.8 L147.2 499.6 L146.7 502.1 L146.9 503.6 L146.1 505.4 L145.7 508.2 L144.7 509.9 L143.2 510.6 L142.1 511.9 L140.7 510.4 L140.4 508.7 L139.9 506.3 L138.8 503.9 L138.1 500.8 L137.9 499.6 L137.5 497.1 L137.3 493.8 L137.5 491.3 L137.7 489.4 L136.9 490.4 L135.1 490.9 L133.8 490.1 L132.7 488.3 L134.7 487.3 L132.7 486.6 L132.0 485.9 L130.9 485.3 L130.6 484.1 L130.1 483.1 L127.2 483.3 L124.0 483.4 L122.8 483.6 L120.1 483.1 L117.7 482.8 L117.1 480.8 L116.4 480.3 L113.9 481.1 L112.1 480.9 L111.1 479.4 L109.8 478.9 L109.3 477.3 L109.1 475.4 L107.7 474.8 L106.7 475.4 L105.9 475.6 L105.7 476.4 L105.8 478.1 L106.6 480.1 L107.3 481.3 L106.9 482.8 L107.4 484.1 L107.7 482.9 L108.5 481.9 L108.7 483.4 L108.2 484.4 L108.5 485.4 L109.8 485.1 L112.4 484.8 L114.1 483.3 L115.5 481.9 L116.0 481.6 L115.5 483.8 L115.7 484.8 L118.1 486.1 L119.5 487.9 L117.1 491.4 L115.6 493.8 L113.1 495.6 L111.3 496.3 L109.6 497.1 L106.6 498.8 L101.8 501.3 L99.2 502.4 L95.3 504.1 L93.1 504.3 L92.8 503.3 L92.6 500.8 L92.9 498.1 L92.3 495.9 L91.2 493.8 L89.4 489.9 L89.3 486.3 L88.0 483.8 L87.5 482.1 L86.7 478.8 L87.1 476.4 L85.6 478.8 L85.3 479.1 L84.6 478.3 L84.2 475.6 M87.4 473.3 L88.6 472.1 L89.8 470.5 L91.2 469.0 L92.6 467.1 L92.9 466.1 L94.1 464.6 L93.4 464.5 L92.3 464.1 L90.2 465.3 L89.1 465.5 L87.4 464.1 L87.0 464.0 L86.2 465.0 L84.4 465.0 L83.5 464.1 L82.6 463.8 L83.2 462.3 L82.3 461.6 L83.2 461.3 L84.0 460.0 L83.3 459.6 L84.0 458.7 L86.1 458.2 L88.1 458.2 L88.8 457.2 L92.3 456.7 L95.6 455.5 L98.2 455.5 L99.1 456.7 L101.4 457.2 L103.2 457.2 L106.1 456.3 L107.3 454.7 L107.0 453.9 L105.9 452.9 L104.8 451.6 L104.6 451.1 L103.7 450.3 L104.9 449.9 L106.6 449.0 L109.2 447.2 L107.1 447.2 L103.3 448.1 L102.1 449.4 L103.7 449.9 L101.8 450.6 L99.4 451.6 L98.7 451.4 L98.6 449.9 L100.7 448.8 L99.3 448.8 L99.2 447.8 L97.4 448.1 L94.6 450.1 L91.9 451.9 L90.1 453.2 L88.6 454.7 L88.4 455.7 L89.0 456.8 L86.7 457.2 L85.1 458.0 L84.4 457.7 L83.3 457.3 L82.5 457.3 L81.1 458.2 L80.9 458.8 L80.0 459.0 L80.1 457.8 L79.0 458.8 L78.7 460.1 L78.4 461.1 L79.1 461.8 L78.6 462.6 L77.7 462.3 L77.2 463.1 L76.2 464.6 L75.3 464.8 L75.3 463.8 L74.6 464.1 L75.0 462.5 L76.2 461.6 L75.2 461.5 L75.4 460.5 L75.2 459.3 L75.1 458.2 L76.3 456.5 L76.7 455.5 L76.4 454.7 L75.4 453.4 L74.4 452.7 L74.1 451.9 L74.5 450.3 L73.2 450.9 L73.8 449.6 L71.7 450.1 L70.4 451.9 L71.1 452.9 L70.6 454.7 L72.2 455.7 L72.6 455.7 L71.7 456.5 L72.7 457.0 L73.6 458.7 L73.0 459.2 L72.1 458.0 L70.7 459.2 L70.6 460.5 L69.6 460.8 L68.0 462.3 L67.4 462.1 L68.4 461.0 L69.5 460.1 L69.7 459.0 L69.0 458.5 L68.6 457.8 L68.6 457.5 L67.4 456.8 L67.1 455.8 L66.4 454.9 L66.3 453.9 L66.7 453.1 L66.8 452.1 L66.0 451.6 L63.4 452.6 L60.7 453.7 L59.9 453.4 L58.6 453.1 L56.6 453.7 L55.7 454.9 L55.1 455.7 L53.1 456.5 L50.5 457.5 L48.2 459.1 M536.6 459.1 L536.6 459.6 L537.6 460.4 M47.2 460.4 L47.1 461.0 L46.7 461.2 M538.1 461.2 L537.7 461.6 L538.3 462.8 L537.3 463.6 L537.2 464.3 L534.2 464.3 L533.4 465.3 M118.3 449.8 L119.4 449.0 L121.9 448.1 L124.3 447.5 L125.7 447.2 L126.8 447.7 L125.6 450.1 L122.9 450.3 L121.8 451.4 L120.8 451.6 L121.2 452.9 L122.2 454.2 L121.5 455.8 L121.2 456.8 L120.1 458.8 L120.6 460.1 L119.3 463.3 L118.9 464.0 L116.2 464.3 L114.4 463.1 L112.8 462.6 L113.4 461.3 L114.6 460.0 L115.7 458.5 L116.9 458.2 L116.3 456.7 L115.9 455.4 L115.7 453.9 L116.6 452.2 L116.3 451.2 L118.3 449.8 M514.8 442.3 L517.2 442.0 L518.8 441.5 L520.9 441.2 M63.9 441.2 L64.3 441.2 L66.4 440.5 L65.9 440.1 L69.1 438.3 L67.8 437.8 L68.9 436.7 L69.1 436.4 M515.7 436.4 L514.9 435.9 L511.8 434.5 L509.5 433.2 L507.7 432.9 L507.9 432.5 L507.0 431.2 L506.4 430.4 L504.2 430.3 L503.7 430.6 L502.9 428.9 L500.7 428.9 L501.6 430.4 L503.9 432.2 L506.1 434.0 L506.5 433.6 L507.9 435.0 L509.4 434.7 L510.6 435.6 L512.7 437.0 L511.0 437.2 L511.6 438.0 L513.0 438.6 L512.6 439.6 L515.7 440.1 L516.4 440.5 L514.9 440.7 L514.8 442.3 M510.5 438.9 L508.8 439.9 L506.8 439.7 L505.6 438.9 L504.9 437.3 L502.6 435.8 L503.9 435.3 L503.1 434.2 L504.0 434.0 L505.7 434.2 L507.3 435.1 L507.9 436.2 L509.0 437.2 L510.5 438.9 M470.4 421.0 L473.4 421.5 L475.7 421.6 L477.6 420.7 L478.3 420.0 L478.1 419.1 L475.1 417.8 L472.5 417.1 L471.3 417.7 L468.8 417.7 L468.6 418.5 L465.8 417.2 L465.2 418.1 L465.2 418.5 L468.2 418.7 L466.9 419.4 L470.2 420.3 L470.4 421.0 M63.0 462.1 L67.7 461.6 L65.4 464.3 L62.8 462.5 L63.0 462.1 M60.7 457.2 L62.3 456.8 L61.5 458.8 L60.2 460.3 L58.6 460.5 L60.1 458.3 L60.7 457.2 M64.9 453.9 L63.7 455.5 L62.6 456.5 L62.5 455.5 L63.4 454.5 L64.9 453.9 M75.7 466.6 L77.3 466.1 L79.5 466.8 L77.1 467.3 L75.7 466.6 M87.6 467.1 L88.9 466.5 L91.4 466.0 L89.8 467.1 L88.2 467.8 L87.6 467.1 M239.9 456.3 L240.8 459.6 L239.1 461.6 L238.6 464.0 L238.2 466.0 L236.8 467.3 L236.6 466.3 L235.2 467.6 L234.3 467.8 L232.7 467.8 L232.6 467.1 L232.3 468.3 L230.7 469.6 L230.0 468.3 L230.3 467.6 L228.5 467.8 L226.4 468.3 L224.0 468.8 L224.9 467.8 L226.8 466.5 L229.2 466.3 L231.3 466.1 L232.8 464.1 L233.8 463.0 L233.2 464.1 L235.4 463.1 L236.9 461.8 L238.1 459.3 L238.2 457.8 L238.9 456.8 L239.9 456.3 M224.0 469.0 L225.0 470.0 L225.1 470.8 L224.1 473.1 L223.0 473.8 L222.4 473.1 L222.7 471.3 L222.1 470.3 L223.2 469.5 L224.0 469.0 M226.2 469.3 L227.7 468.6 L229.2 468.5 L228.5 470.0 L226.7 470.8 L226.2 469.3 M238.7 456.3 L240.3 455.8 L243.0 455.5 L246.5 453.4 L246.5 451.7 L243.4 451.7 L242.3 449.8 L241.6 452.2 L240.8 453.5 L239.4 454.2 L238.7 455.5 L238.7 456.3 M246.4 435.4 L246.5 437.7 L245.9 440.9 L246.8 444.1 L244.3 445.7 L244.8 447.7 L242.6 449.0 L243.2 445.7 L243.9 442.5 L244.3 439.3 L246.4 435.4 M208.7 483.3 L209.3 484.6 L207.2 488.8 L206.3 487.1 L208.0 483.8 L208.7 483.3 M192.6 492.1 L192.6 492.8 L190.2 495.1 L189.1 493.4 L190.5 492.1 L192.6 492.1 M146.0 509.1 L147.6 511.2 L148.3 513.7 L147.1 515.1 L145.6 515.4 L145.3 512.1 L146.0 509.1 M206.4 494.6 L208.7 494.6 L208.4 498.3 L207.5 499.1 L207.6 501.8 L210.6 503.8 L210.5 504.1 L208.8 502.9 L206.3 502.6 L205.8 501.4 L205.6 498.8 L205.9 496.3 L206.4 494.6 M212.4 509.1 L213.9 512.4 L213.4 514.7 L212.2 516.1 L210.2 514.6 L207.3 513.7 L208.8 511.2 L211.3 511.2 L212.4 509.1 M200.3 511.4 L203.9 506.6 L203.6 508.2 L201.2 511.1 L200.3 511.4 M207.6 505.8 L209.2 506.3 L208.9 508.7 L208.2 509.6 L207.5 507.9 L207.6 505.8 M211.2 504.6 L212.8 504.6 L213.0 506.8 L211.9 508.4 L211.2 507.1 L211.2 504.6 M168.0 516.1 L171.2 516.7 L172.9 519.2 L175.2 521.6 L177.0 522.1 L179.7 524.6 L180.3 527.1 L181.4 528.4 L183.6 530.4 L183.6 535.1 L181.5 535.1 L178.2 532.1 L175.3 527.1 L172.8 522.6 L170.7 519.9 L168.0 516.1 M182.6 536.7 L184.9 535.6 L187.6 536.6 L190.3 536.9 L191.1 536.1 L193.7 537.4 L196.2 538.2 L196.2 539.7 L191.2 539.2 L187.5 538.4 L184.4 537.6 L182.6 536.7 M188.0 522.9 L188.9 522.1 L191.5 521.4 L193.9 520.1 L195.4 517.7 L197.7 516.2 L199.7 513.7 L201.0 514.7 L203.1 516.6 L201.3 518.2 L200.8 519.6 L201.2 521.7 L202.7 523.7 L201.1 524.1 L200.5 526.7 L199.0 528.4 L198.9 530.4 L198.4 532.1 L196.3 532.2 L196.1 531.1 L193.9 530.7 L192.0 531.2 L189.8 530.2 L189.5 527.9 L188.3 526.2 L188.0 522.9 M203.9 524.1 L205.3 523.2 L208.6 523.7 L211.5 522.6 L211.8 523.1 L210.5 524.7 L207.1 524.6 L204.9 524.6 L204.3 526.9 L206.5 526.9 L209.2 527.1 L206.4 528.6 L207.9 530.9 L209.0 533.2 L206.6 533.4 L205.7 530.4 L204.8 529.9 L204.9 534.6 L203.4 534.6 L203.5 531.2 L202.4 529.9 L203.7 525.6 L203.9 524.1 M220.3 526.7 L222.5 526.1 L224.7 526.7 L225.5 530.1 L226.3 530.9 L229.2 527.9 L231.8 528.7 L235.1 529.7 L238.9 531.4 L242.2 534.1 L245.1 535.4 L245.3 536.6 L244.0 536.7 L245.9 539.7 L249.7 542.6 L248.2 542.7 L244.4 541.2 L242.5 538.9 L240.3 538.1 L238.6 539.2 L237.9 540.7 L235.3 540.6 L232.3 538.9 L230.8 539.4 L231.7 537.1 L231.5 534.7 L229.2 533.6 L226.6 532.7 L224.1 531.7 L223.0 532.1 L222.1 530.2 L224.0 529.4 L221.8 528.9 L220.3 527.7 L220.3 526.7 M209.7 542.6 L211.8 540.4 L215.1 539.4 L213.3 540.9 L211.2 542.4 L209.7 542.6 M198.6 539.4 L201.5 539.2 L204.4 539.4 L208.5 539.1 L208.6 540.1 L204.5 540.2 L201.5 540.2 L198.6 540.2 L198.6 539.4 M215.2 522.1 L216.7 522.9 L216.9 524.9 L215.9 526.7 L215.5 524.6 L215.2 522.1 M216.0 530.4 L220.1 530.7 L218.9 531.4 L216.3 531.2 L216.0 530.4 M245.9 534.7 L248.6 534.6 L251.6 532.4 L251.3 534.4 L249.1 535.9 L245.9 534.7 M237.5 543.2 L239.1 546.2 L239.6 549.4 L241.9 550.4 L242.7 553.5 L244.4 557.4 L247.4 559.5 L248.7 562.5 L250.5 564.5 L254.0 567.0 L254.1 571.2 L255.0 573.2 L254.4 577.0 L253.0 580.2 L252.3 581.8 L251.2 585.0 L251.1 587.8 L248.6 588.5 L246.5 590.5 L244.6 589.3 L244.1 588.7 L242.6 590.0 L239.0 588.8 L237.1 587.0 L236.4 585.0 L234.9 584.2 L234.8 583.3 L234.0 582.3 L233.7 584.0 L233.3 579.7 L230.8 583.5 L228.4 580.3 L227.2 578.9 L223.8 577.9 L220.8 578.2 L216.7 579.2 L214.1 580.3 L213.7 581.8 L211.5 581.8 L208.3 582.7 L206.5 583.8 L203.6 583.3 L202.2 582.5 L202.2 578.7 L200.7 575.9 L199.7 573.4 L198.6 570.9 L197.3 568.7 L197.3 566.7 L197.1 563.0 L197.5 561.7 L198.3 562.7 L201.2 559.7 L203.7 559.2 L206.8 558.2 L208.6 555.4 L209.4 552.9 L210.6 554.2 L211.0 552.4 L212.3 550.7 L214.8 548.5 L216.8 550.5 L219.0 550.2 L219.2 548.0 L220.5 546.0 L223.0 545.5 L222.9 544.4 L226.7 545.7 L229.4 545.9 L228.2 547.9 L227.6 550.2 L229.9 551.9 L233.3 554.4 L235.5 554.5 L236.5 550.4 L236.3 546.9 L236.8 543.7 L237.5 543.2 M244.7 593.1 L247.2 593.8 L249.6 593.5 L249.9 595.6 L249.6 597.3 L248.3 597.9 L246.4 596.8 L245.7 595.3 L244.7 593.1 M282.3 582.7 L284.5 584.2 L285.2 586.7 L286.2 586.2 L287.2 588.0 L290.3 588.2 L289.5 590.5 L288.2 591.2 L288.2 592.6 L286.1 594.6 L285.4 594.1 L285.8 592.3 L285.1 591.8 L284.0 590.8 L285.0 590.0 L285.1 587.7 L284.4 586.0 L282.7 584.0 L282.3 582.7 M282.5 592.8 L283.4 594.1 L284.7 594.0 L284.5 595.0 L284.0 595.9 L282.8 597.4 L283.2 598.2 L280.9 599.1 L280.2 601.7 L278.7 602.8 L277.3 602.8 L276.0 602.2 L274.7 601.5 L275.6 599.9 L276.8 598.7 L279.1 597.3 L280.6 595.9 L281.1 594.8 L281.7 593.5 L282.5 592.8 M269.3 558.9 L271.5 560.4 L273.7 562.5 L272.5 562.4 L270.0 560.0 L269.3 558.9 M288.5 554.5 L290.4 554.7 L290.2 555.7 L288.6 555.5 L288.5 554.5 M257.9 536.7 L260.1 538.1 L263.1 541.2 L265.3 542.6 L263.1 541.9 L260.1 538.7 L257.9 536.7 M316.9 410.3 L321.7 411.0 L326.1 411.6 L331.5 412.0 L333.8 412.7 L338.4 413.5 L340.2 412.8 L342.3 412.7 L346.2 412.0 L347.0 411.4 L350.9 412.8 L351.1 412.1 L355.0 412.5 L359.9 413.7 L363.6 414.7 L362.9 415.2 L368.2 415.1 L370.7 415.7 L369.8 414.1 L371.6 413.7 L377.0 415.2 L381.3 415.2 L380.2 414.4 L383.1 414.7 L381.2 412.8 L382.7 413.4 L380.6 409.4 L384.3 410.8 L385.2 412.5 L387.0 412.8 L389.2 414.2 L391.0 413.8 L392.5 412.4 L396.2 412.4 L397.7 413.2 L398.3 414.2 L399.8 416.7 L398.2 417.4 L395.4 417.1 L396.1 419.0 L394.1 419.3 L396.3 420.5 L394.0 420.7 L394.0 421.8 L393.0 422.5 L392.4 425.1 L393.5 428.3 L394.3 428.6 L397.7 431.4 L401.1 431.4 L404.0 432.2 L408.8 434.0 L412.3 434.3 L414.5 437.7 L416.1 438.9 L418.2 440.4 L419.9 440.1 L418.7 438.0 L417.0 435.8 L415.5 434.0 L417.0 432.6 L417.1 431.1 L413.1 428.7 L412.8 426.8 L409.6 423.1 L413.0 423.3 L417.2 424.2 L418.5 425.1 L421.0 425.2 L422.8 427.5 L422.8 428.3 L425.7 429.5 L427.8 428.6 L427.7 426.3 L433.0 429.8 L436.3 432.2 L439.5 434.2 L444.1 436.1 L447.8 438.5 L448.8 439.3 L447.8 440.2 L446.1 440.9 L445.4 442.1 L441.4 442.0 L437.2 442.1 L436.7 443.6 L435.6 444.9 L434.4 447.5 L435.4 446.2 L436.7 444.6 L438.7 443.8 L441.1 444.2 L440.6 445.7 L442.2 447.0 L443.5 448.5 L445.0 449.0 L448.0 449.4 L449.3 448.5 L448.3 447.3 L449.0 450.1 L446.2 451.2 L444.7 453.1 L443.0 451.7 L444.4 450.1 L442.8 450.3 L441.4 450.6 L441.5 451.1 L439.6 452.2 L438.3 452.9 L438.3 454.4 L438.5 455.0 L439.9 455.5 L439.5 456.3 L438.5 456.3 L436.7 456.8 L435.7 457.7 L435.9 458.3 L436.1 459.5 L435.6 460.6 L434.4 459.6 L435.6 461.3 L435.4 463.5 L435.0 463.8 L433.9 461.3 L435.0 463.8 L435.8 464.5 L437.2 466.8 L435.8 467.6 L434.6 469.0 L433.2 470.1 L432.3 470.9 L431.3 472.1 L431.4 474.6 L433.4 477.9 L434.9 480.8 L435.0 482.6 L434.7 483.4 L433.9 483.6 L432.6 481.9 L430.9 479.3 L430.1 477.1 L428.2 475.4 L427.5 475.3 L426.2 475.9 L424.3 474.8 L423.3 474.9 L422.1 474.8 L420.1 475.1 L421.0 477.1 L419.1 476.8 L417.1 476.1 L414.6 475.8 L412.9 476.4 L411.5 477.8 L410.1 479.1 L410.5 482.1 L410.3 485.4 L410.7 488.3 L411.9 490.9 L413.6 493.4 L415.5 494.4 L416.4 495.1 L419.1 494.4 L420.8 494.1 L421.7 492.3 L421.6 490.4 L422.7 489.9 L424.9 489.4 L426.4 489.6 L426.8 490.3 L426.1 492.9 L426.0 494.9 L425.2 494.6 L425.6 496.3 L425.3 498.8 L424.9 498.9 L426.2 499.3 L429.1 498.9 L432.0 499.1 L433.4 500.4 L433.1 503.8 L433.2 506.3 L433.3 507.1 L434.4 508.7 L435.7 510.1 L437.5 510.7 L439.0 509.7 L441.1 509.6 L442.8 510.9 L443.6 512.1 L444.3 510.4 L445.3 508.1 L446.3 507.1 L447.1 506.6 L449.9 505.4 L450.6 504.8 L451.3 505.8 L450.5 506.3 L451.0 507.3 L453.0 506.4 L453.1 505.1 L453.7 506.3 L455.8 507.3 L456.3 507.9 L457.9 507.7 L459.3 508.4 L461.2 508.6 L462.4 507.6 L465.1 507.6 L463.9 507.9 L465.3 508.7 L466.7 509.6 L468.3 511.2 L470.7 513.7 L471.1 514.1 L473.0 515.4 L475.6 515.6 L477.4 515.7 L480.0 517.2 L481.1 518.2 L481.8 518.7 L482.5 522.1 L483.6 523.7 L482.9 525.4 L485.8 525.7 L485.8 527.7 L486.7 526.4 L489.5 527.1 L491.6 529.1 L491.9 529.6 L493.1 529.4 L495.6 530.2 L498.2 530.1 L500.4 531.6 L502.2 533.4 L504.9 534.1 L505.0 535.1 L505.4 537.4 L505.1 538.9 L503.7 541.6 L501.6 543.7 L499.0 547.0 L497.8 550.0 L497.3 552.9 L496.6 554.9 L495.2 558.0 L494.1 559.2 L492.5 562.0 L490.7 563.7 L489.0 563.7 L486.7 564.2 L484.2 565.4 L481.4 567.4 L479.9 569.0 L479.4 571.4 L478.5 573.0 L475.6 575.7 L472.8 578.4 L471.7 579.0 L468.9 581.5 L465.9 583.7 L464.1 583.5 L462.2 582.8 L461.7 582.0 L461.3 583.0 L462.3 584.2 L461.7 585.3 L462.4 586.0 L460.1 588.7 L457.5 589.8 L453.8 590.3 L453.0 590.0 L451.7 592.8 L451.1 593.6 L448.9 594.0 L447.6 593.3 L446.9 594.5 L447.3 595.8 L448.1 596.1 L446.5 596.8 L445.5 597.4 L444.0 599.4 L443.2 600.2 L439.9 601.7 L439.4 602.7 L440.2 603.5 L440.3 604.9 L436.8 607.0 L434.6 608.5 L432.5 610.9 L432.5 612.0 L430.9 612.3 L428.9 612.8 L427.6 614.4 L426.2 613.8 L425.3 613.1 L426.1 609.9 L426.9 606.4 L429.3 604.3 L428.6 603.0 L432.1 600.2 L434.7 597.7 L436.2 595.3 L435.1 595.0 L437.0 591.8 L438.6 587.3 L439.5 586.7 L441.2 584.5 L443.7 580.3 L445.1 577.0 L445.7 575.4 L447.2 572.0 L449.0 567.7 L449.7 564.7 L450.8 560.4 L451.0 559.0 L451.3 556.0 L450.1 554.7 L448.3 553.2 L444.9 551.0 L443.6 548.5 L442.8 545.4 L441.4 542.1 L440.5 538.9 L439.3 536.7 L437.6 535.4 L437.4 533.2 L438.9 531.1 L439.6 529.6 L438.1 529.1 L438.4 527.1 L439.3 525.4 L439.5 524.1 L441.2 523.1 L441.6 521.2 L443.1 521.1 L443.6 518.9 L442.9 516.1 L443.1 514.4 L442.2 513.4 L441.6 511.6 L441.3 511.4 L439.7 510.4 L438.4 511.6 L439.1 512.9 L438.5 513.2 L437.5 512.7 L436.5 511.9 L434.8 511.7 L433.6 511.2 L432.0 509.2 L431.4 509.4 L430.3 508.4 L430.3 507.1 L428.9 505.3 L427.3 503.9 L427.5 503.3 L425.9 503.4 L423.7 502.6 L421.7 502.1 L420.2 501.1 L417.6 498.8 L415.7 498.4 L413.9 499.3 L410.9 498.3 L408.7 497.4 L405.8 495.8 L403.2 494.8 L401.9 493.6 L399.7 491.4 L400.0 489.6 L398.1 486.8 L395.4 483.8 L393.3 482.8 L392.4 480.4 L390.6 478.9 L388.4 477.1 L386.6 474.1 L385.9 473.3 L383.9 472.4 L384.5 474.6 L386.6 477.3 L387.9 478.8 L389.0 480.4 L390.5 482.1 L392.3 485.1 L393.8 486.4 L393.2 487.3 L392.5 486.3 L389.8 484.1 L389.2 482.1 L387.2 480.8 L384.8 479.1 L385.7 477.9 L383.2 475.4 L381.4 472.4 L380.5 471.3 L378.2 469.0 L375.1 468.0 L372.4 464.5 L371.2 462.5 L368.8 460.0 L367.6 458.2 L367.2 455.5 L366.5 452.2 L365.7 448.6 L363.8 445.1 L366.6 444.9 L365.3 443.6 L362.7 442.0 L358.9 440.9 L357.7 438.9 L355.2 436.9 L353.8 435.6 L351.5 433.9 L348.5 431.4 L345.8 429.5 L344.4 429.5 L342.5 428.7 L339.9 427.4 L337.6 426.8 L334.7 426.8 L331.5 425.1 L329.7 425.5 L329.8 426.8 L328.3 426.6 L325.8 428.0 L325.7 426.0 L327.2 424.9 L325.6 425.2 L324.7 426.8 L323.7 427.7 L323.2 429.4 L320.8 431.4 L318.6 432.9 L315.7 434.2 L313.3 434.8 L311.1 435.1 L313.2 433.7 L315.5 432.9 L318.3 430.9 L319.7 428.7 L317.7 429.1 L315.6 428.6 L313.6 428.9 L313.9 427.5 L312.9 426.6 L310.6 426.3 L309.6 425.8 L308.6 424.3 L309.8 422.8 L310.1 422.1 L312.8 421.5 L313.9 419.7 L311.5 420.0 L308.8 420.0 L307.5 419.3 L305.7 418.4 L307.3 417.5 L310.0 416.9 L312.3 417.7 L311.5 416.5 L309.8 415.4 L306.7 414.5 L307.2 413.7 L309.9 412.8 L311.9 411.7 L314.4 411.0 L316.9 410.3 M431.8 612.7 L429.3 612.8 L427.5 614.7 L425.6 615.5 L427.3 616.6 L430.8 616.8 L433.7 615.8 L432.7 615.0 L431.9 613.6 L431.8 612.7 M434.9 595.0 L435.0 595.8 L434.0 597.6 L433.1 597.3 L434.1 595.6 L434.9 595.0 M442.1 611.2 L445.3 610.6 L446.6 610.9 L444.3 612.0 L442.1 611.5 L442.1 611.2 M429.3 488.9 L431.8 487.1 L434.6 486.9 L437.7 488.1 L440.8 489.4 L443.2 490.9 L445.2 491.8 L443.4 492.3 L440.2 492.3 L440.8 491.1 L438.8 490.4 L436.4 489.1 L433.4 488.1 L430.6 488.9 L429.3 488.9 M445.4 494.8 L447.5 495.1 L449.4 495.8 L451.8 494.9 L454.0 495.1 L453.9 493.9 L451.8 493.1 L449.9 492.3 L447.0 492.3 L446.5 492.8 L448.0 493.8 L448.2 494.4 L445.4 494.8 M439.7 494.9 L441.6 494.6 L442.9 495.4 L441.5 495.8 L439.7 494.9 M455.8 494.8 L458.1 494.8 L457.9 495.4 L455.9 495.4 L455.8 494.8 M465.2 507.6 L466.5 507.4 L466.6 508.6 L465.3 508.6 L465.2 507.6 M449.0 446.3 L449.1 444.9 L448.0 444.7 L448.2 441.5 L449.0 439.9 L449.7 440.2 L450.0 443.0 L451.1 442.6 L452.7 443.6 L454.4 443.4 L455.4 444.7 L456.9 445.5 L457.6 446.5 L457.8 447.8 L456.7 447.7 L455.4 446.0 L454.2 447.5 L452.6 446.3 L449.0 446.3 M358.0 441.2 L359.7 441.3 L362.2 442.3 L365.2 444.7 L365.4 445.2 L363.6 444.9 L361.7 443.8 L358.7 442.1 L358.0 441.2 M350.6 435.9 L352.2 436.1 L353.8 438.9 L352.2 438.0 L350.6 435.9 M323.0 430.6 L325.2 429.4 L326.1 430.6 L324.4 431.7 L323.0 430.6 M443.3 447.7 L446.5 448.3 L446.0 449.0 L443.3 447.7 M439.9 442.6 L443.8 443.6 L441.8 443.6 L439.9 442.6 M393.2 401.4 L394.8 399.3 L395.4 397.9 L398.5 397.1 L406.5 396.7 L413.5 395.8 L419.8 395.6 L426.7 395.9 L433.8 397.1 L442.1 397.6 L441.4 399.3 L443.7 401.0 L446.5 402.8 L450.6 404.8 L451.5 406.1 L452.2 407.4 L454.8 409.4 L458.4 411.4 L458.2 412.4 L457.8 414.1 L454.5 414.8 L452.8 415.7 L453.0 417.1 L450.5 418.4 L448.8 419.3 L450.2 421.5 L451.6 424.5 L452.6 427.1 L449.9 426.3 L446.1 425.4 L442.8 423.7 L438.8 421.5 L437.0 420.5 L434.1 418.5 L430.7 416.5 L429.2 414.9 L430.4 413.5 L428.9 412.3 L425.1 412.1 L423.6 411.0 L426.1 410.8 L421.3 409.4 L417.8 407.4 L413.7 405.4 L409.5 404.1 L403.6 404.1 L400.2 403.7 L397.1 402.8 L397.7 402.2 L393.2 401.4 M424.2 423.0 L420.2 422.2 L414.3 420.7 L410.9 420.0 L407.1 420.2 L406.5 418.7 L410.2 418.5 L409.5 417.1 L409.3 415.7 L405.6 414.5 L401.9 412.8 L399.2 412.1 L397.0 412.1 L393.3 412.1 L389.1 411.4 L386.3 410.1 L384.0 408.0 L385.1 407.0 L388.2 407.1 L391.2 407.1 L394.4 408.7 L397.3 408.0 L398.6 408.3 L402.1 409.8 L406.2 410.8 L410.0 411.9 L413.0 413.2 L412.9 414.2 L418.2 415.2 L421.5 416.4 L422.8 416.9 L422.7 418.8 L420.2 418.5 L415.6 417.1 L421.6 420.0 L424.1 421.5 L424.2 423.0 M395.8 418.5 L397.7 418.1 L399.2 418.0 L403.0 420.0 L405.1 421.2 L402.5 421.5 L400.0 421.9 L397.7 421.2 L398.0 420.0 L395.8 418.5 M357.8 410.1 L359.9 408.4 L363.7 408.0 L367.4 407.6 L369.3 408.7 L373.4 410.1 L375.9 412.1 L375.3 413.5 L371.4 413.2 L368.5 413.8 L364.5 414.2 L360.6 413.1 L358.1 411.4 L360.5 411.2 L357.8 410.1 M348.6 409.4 L351.8 410.5 L354.7 410.1 L355.9 408.7 L355.7 406.7 L352.2 406.1 L348.9 406.3 L348.6 409.4 M391.4 403.7 L388.2 403.5 L381.4 403.5 L378.6 402.2 L380.5 401.0 L377.4 399.3 L371.2 397.9 L374.3 396.9 L379.3 396.1 L387.9 396.0 L395.0 396.6 L395.8 397.6 L393.9 398.7 L391.9 399.8 L389.0 400.4 L391.1 401.6 L391.4 403.7 M391.4 405.4 L390.1 406.1 L384.2 406.1 L379.8 405.7 L378.0 403.9 L381.6 403.6 L387.7 403.9 L390.4 404.5 L391.4 405.4 M369.2 399.3 L375.1 401.2 L379.8 401.2 L379.0 399.8 L374.0 398.7 L370.3 397.9 L369.2 399.3 M354.6 405.1 L360.3 406.2 L365.7 405.4 L364.6 404.1 L360.0 403.3 L355.3 403.5 L354.6 405.1 M366.5 404.1 L371.6 405.4 L374.0 404.8 L371.6 403.3 L367.9 403.5 L366.5 404.1 M371.3 407.4 L375.1 409.7 L378.4 409.9 L377.4 408.0 L374.8 406.7 L371.3 407.4 M377.3 406.7 L381.6 409.4 L383.5 408.0 L381.8 406.7 L377.3 406.7 M378.2 413.1 L381.6 414.1 L382.8 413.5 L381.4 412.4 L378.6 412.3 L378.2 413.1 M347.7 403.7 L353.1 404.4 L353.6 402.5 L349.6 402.2 L347.7 403.7 M136.7 399.8 L140.7 399.3 L145.3 399.3 L150.6 398.9 L152.6 399.3 L145.6 400.4 L142.9 401.2 L138.6 402.2 L134.9 403.3 L134.0 402.8 L135.1 401.6 L134.0 401.0 L136.7 399.8 M144.8 399.0 L149.2 398.7 L153.0 399.0 L149.3 399.9 L145.6 399.9 L144.8 399.0 M159.4 409.8 L159.4 411.0 L163.3 411.3 L164.0 409.4 L166.7 407.6 L170.7 406.1 L176.6 404.6 L184.7 403.0 L184.6 403.7 L177.1 405.0 L171.9 406.7 L167.4 408.7 L163.6 411.0 L161.9 411.2 L160.3 410.3 L159.4 409.8 M213.7 400.2 L218.3 399.4 L222.0 400.2 L217.2 401.2 L221.9 401.2 L218.1 402.2 L215.2 401.4 L213.7 400.2 M215.0 399.0 L218.5 397.9 L218.1 398.7 L215.0 399.0 M250.0 405.0 L253.4 404.1 L258.0 404.8 L263.3 405.1 L258.6 405.7 L252.6 405.8 L250.0 405.0 M251.9 407.4 L255.5 407.4 L254.2 406.8 L251.9 407.4 M292.9 410.1 L295.0 410.5 L294.5 411.0 L300.8 411.0 L307.2 411.0 L313.5 411.0 L319.9 411.0 L326.2 411.0 L332.6 411.0 L338.9 411.0 L345.3 411.0 L351.6 411.0 L358.0 411.0 L364.3 411.0 L370.7 411.0 L377.0 411.0 L383.4 411.0 L389.7 411.0 L396.1 411.0 L402.4 410.9 L408.7 410.9 L415.1 410.9 L421.4 410.9 L427.8 410.9 L434.1 410.9 L440.5 410.9 L446.8 410.9 L453.1 410.9 L459.5 410.9 L465.8 410.9 L472.2 410.9 L478.5 410.9 L480.6 410.9 M104.2 410.9 L108.4 410.9 L114.8 410.9 L121.1 410.9 L127.5 410.9 L133.8 410.9 L140.2 410.9 L146.5 410.9 L152.9 410.9 L159.2 410.8 L165.6 410.8 L171.9 410.8 L178.3 410.8 L184.6 410.8 L190.9 410.8 L197.3 410.8 L203.6 410.8 L210.0 410.8 L216.3 410.8 L222.7 410.8 L229.0 410.8 L235.3 410.8 L241.7 410.8 L248.0 410.8 L254.4 410.8 L260.7 410.8 L267.0 410.8 L273.4 410.8 L279.7 410.8 L286.1 410.8 L292.4 410.8 L291.0 410.6 L284.7 410.6 L278.4 410.6 L272.1 410.6 L265.7 410.6 L259.4 410.6 L253.1 410.6 L246.7 410.5 L240.4 410.5 L234.1 410.5 L227.8 410.5 L221.4 410.5 L215.1 410.5 L208.8 410.5 L202.5 410.5 L196.2 410.5 L189.9 410.5 L183.5 410.5 L177.2 410.4 L170.9 410.4 L164.6 410.4 L158.3 410.4 L152.0 410.4 L145.7 410.4 L139.4 410.4 L133.1 410.4 L126.8 410.4 L120.5 410.4 L114.1 410.4 L107.8 410.3 L105.1 410.3 M479.7 410.3 L476.1 410.3 L469.8 410.3 L463.4 410.3 L457.1 410.3 L450.8 410.3 L444.5 410.3 L438.1 410.3 L431.8 410.3 L425.5 410.3 L419.2 410.3 L412.8 410.2 L406.5 410.2 L400.2 410.2 L393.9 410.2 L387.6 410.2 L381.2 410.2 L374.9 410.2 L368.6 410.2 L362.3 410.2 L356.0 410.2 L349.7 410.2 L343.4 410.1 L337.1 410.1 L330.7 410.1 L324.4 410.1 L318.1 410.1 L311.8 410.1 L305.5 410.1 L299.2 410.1 L292.9 410.1 M171.3 399.0 L176.1 398.4 L182.2 397.9 L187.2 397.6 L189.1 398.2 L183.3 398.9 L178.4 399.1 L173.4 399.4 L171.3 399.0 M292.4 656.0 L298.1 656.2 L303.7 656.5 L310.6 656.5 L317.6 656.6 L322.4 656.0 L317.7 654.5 L320.1 652.4 L313.1 651.7 L308.2 650.3 L311.9 649.1 L320.2 648.0 L327.3 647.2 L338.9 645.4 L348.3 644.7 L352.9 643.7 L359.9 644.3 L366.7 643.2 L371.4 642.0 L376.8 641.7 L380.7 642.6 L390.1 642.8 L398.6 642.5 L400.0 641.8 L401.8 642.4 L406.2 642.1 L409.1 640.7 L407.7 639.6 L402.8 640.0 L400.0 641.8 L401.0 641.8 L409.7 637.8 L415.1 634.3 L422.0 631.7 L430.1 629.6 L423.8 632.5 L417.7 636.0 L415.9 638.7 L410.7 644.9 L402.9 646.7 L392.4 647.6 L387.1 650.3 L388.0 652.3 L397.5 652.8 L403.9 652.1 L405.3 652.9 L411.3 652.0 L415.0 651.8 L425.7 651.4 L430.7 650.7 L427.4 649.3 L432.7 647.6 L441.4 645.7 L455.2 643.7 L467.6 641.3 L478.1 639.5 L482.0 639.1 M102.8 639.1 L102.8 639.1 L113.1 638.9 L123.7 638.9 L134.4 638.0 L141.6 638.1 L146.1 635.1 L151.5 632.5 L156.9 632.8 L163.3 635.6 L171.6 636.0 L173.8 637.8 L176.8 640.9 L179.8 641.1 L180.3 638.4 L184.3 635.7 L194.7 634.6 L205.3 633.9 L208.0 632.5 L210.5 634.1 L218.5 633.1 L226.3 633.9 L234.1 633.2 L242.0 632.5 L246.0 633.9 L252.7 635.1 L260.5 637.3 L267.9 637.6 L273.4 639.1 L278.8 640.0 L281.5 640.7 L278.0 644.3 L280.4 646.7 L275.2 649.1 L274.5 651.3 L280.4 653.0 L285.0 655.0 L292.4 656.0 M327.1 491.8 L328.5 492.3 L328.8 492.9 L327.6 493.9 L327.1 492.6 L327.1 491.8 M326.0 490.4 L327.0 490.8 L326.5 491.1 L326.0 490.4 M323.8 489.6 L324.5 489.8 L324.1 489.9 L323.8 489.6 M321.6 488.6 L322.2 488.6 L321.9 488.9 L321.6 488.6 M149.5 606.7 L151.5 606.9 L151.8 607.7 L150.3 607.7 L149.5 606.7 M272.9 550.0 L273.9 552.0 L273.6 550.4 L272.9 550.0 M275.1 554.0 L275.7 555.0 L275.3 555.0 L275.1 554.0" fill="none" stroke="#5e5e5e" stroke-width="0.85" stroke-linejoin="round"/>
<path d="M102.1 638.7 L482.7 638.7 M62.6 608.3 L522.2 608.3 M38.2 575.4 L546.6 575.4 M28.9 542.1 L555.9 542.1 M28.9 508.7 L555.9 508.7 M38.2 475.4 L546.6 475.4 M62.6 442.5 L522.2 442.5 M102.1 412.1 L482.7 412.1" fill="none" stroke="#000" stroke-width="1.35"/>
<path d="M198.5 659.7 L195.2 658.3 L191.4 656.5 L187.2 654.2 L182.7 651.5 L178.1 648.6 L173.6 645.4 L169.4 642.1 L165.6 638.7 L161.9 635.1 L158.3 631.5 L154.8 627.8 L151.4 624 L148.2 620.2 L145 616.3 L142 612.3 L139.2 608.3 L136.6 604.3 L134.2 600.2 L131.9 596.1 L129.7 592 L127.8 587.8 L126 583.7 L124.4 579.5 L123 575.4 L121.7 571.2 L120.7 567 L119.8 562.9 L119 558.7 L118.3 554.5 L117.7 550.4 L117.1 546.2 L116.7 542.1 L116.4 537.9 L116.1 533.7 L116 529.6 L115.9 525.4 L116 521.2 L116.1 517.1 L116.4 512.9 L116.7 508.7 L117.1 504.6 L117.7 500.4 L118.3 496.3 L119 492.1 L119.8 487.9 L120.7 483.8 L121.7 479.6 L123 475.4 L124.4 471.3 L126 467.1 L127.8 463 L129.7 458.8 L131.9 454.7 L134.2 450.6 L136.6 446.5 L139.2 442.5 L142 438.5 L145 434.5 L148.2 430.6 L151.4 426.8 L154.8 423 L158.3 419.3 L161.9 415.7 L165.6 412.1 L169.4 408.7 L173.6 405.4 L178.1 402.2 L182.7 399.3 L187.2 396.6 L191.4 394.3 L195.2 392.5 L198.5 391.1 M245.4 659.7 L243.8 658.3 L241.9 656.5 L239.8 654.2 L237.6 651.5 L235.2 648.6 L233 645.4 L230.9 642.1 L229 638.7 L227.1 635.1 L225.4 631.5 L223.6 627.8 L221.9 624 L220.3 620.2 L218.7 616.3 L217.2 612.3 L215.8 608.3 L214.5 604.3 L213.3 600.2 L212.1 596.1 L211.1 592 L210.1 587.8 L209.2 583.7 L208.4 579.5 L207.7 575.4 L207.1 571.2 L206.5 567 L206.1 562.9 L205.7 558.7 L205.4 554.5 L205 550.4 L204.8 546.2 L204.6 542.1 L204.4 537.9 L204.3 533.7 L204.2 529.6 L204.1 525.4 L204.2 521.2 L204.3 517.1 L204.4 512.9 L204.6 508.7 L204.8 504.6 L205 500.4 L205.4 496.3 L205.7 492.1 L206.1 487.9 L206.5 483.8 L207.1 479.6 L207.7 475.4 L208.4 471.3 L209.2 467.1 L210.1 463 L211.1 458.8 L212.1 454.7 L213.3 450.6 L214.5 446.5 L215.8 442.5 L217.2 438.5 L218.7 434.5 L220.3 430.6 L221.9 426.8 L223.6 423 L225.4 419.3 L227.1 415.7 L229 412.1 L230.9 408.7 L233 405.4 L235.2 402.2 L237.6 399.3 L239.8 396.6 L241.9 394.3 L243.8 392.5 L245.4 391.1 M292.4 659.7 L292.4 658.3 L292.4 656.5 L292.4 654.2 L292.4 651.5 L292.4 648.6 L292.4 645.4 L292.4 642.1 L292.4 638.7 L292.4 635.1 L292.4 631.5 L292.4 627.8 L292.4 624 L292.4 620.2 L292.4 616.3 L292.4 612.3 L292.4 608.3 L292.4 604.3 L292.4 600.2 L292.4 596.1 L292.4 592 L292.4 587.8 L292.4 583.7 L292.4 579.5 L292.4 575.4 L292.4 571.2 L292.4 567 L292.4 562.9 L292.4 558.7 L292.4 554.5 L292.4 550.4 L292.4 546.2 L292.4 542.1 L292.4 537.9 L292.4 533.7 L292.4 529.6 L292.4 525.4 L292.4 521.2 L292.4 517.1 L292.4 512.9 L292.4 508.7 L292.4 504.6 L292.4 500.4 L292.4 496.3 L292.4 492.1 L292.4 487.9 L292.4 483.8 L292.4 479.6 L292.4 475.4 L292.4 471.3 L292.4 467.1 L292.4 463 L292.4 458.8 L292.4 454.7 L292.4 450.6 L292.4 446.5 L292.4 442.5 L292.4 438.5 L292.4 434.5 L292.4 430.6 L292.4 426.8 L292.4 423 L292.4 419.3 L292.4 415.7 L292.4 412.1 L292.4 408.7 L292.4 405.4 L292.4 402.2 L292.4 399.3 L292.4 396.6 L292.4 394.3 L292.4 392.5 L292.4 391.1 M339.4 659.7 L341 658.3 L342.9 656.5 L345 654.2 L347.2 651.5 L349.6 648.6 L351.8 645.4 L353.9 642.1 L355.8 638.7 L357.7 635.1 L359.4 631.5 L361.2 627.8 L362.9 624 L364.5 620.2 L366.1 616.3 L367.6 612.3 L369 608.3 L370.3 604.3 L371.5 600.2 L372.7 596.1 L373.7 592 L374.7 587.8 L375.6 583.7 L376.4 579.5 L377.1 575.4 L377.7 571.2 L378.3 567 L378.7 562.9 L379.1 558.7 L379.4 554.5 L379.8 550.4 L380 546.2 L380.2 542.1 L380.4 537.9 L380.5 533.7 L380.6 529.6 L380.7 525.4 L380.6 521.2 L380.5 517.1 L380.4 512.9 L380.2 508.7 L380 504.6 L379.8 500.4 L379.4 496.3 L379.1 492.1 L378.7 487.9 L378.3 483.8 L377.7 479.6 L377.1 475.4 L376.4 471.3 L375.6 467.1 L374.7 463 L373.7 458.8 L372.7 454.7 L371.5 450.6 L370.3 446.5 L369 442.5 L367.6 438.5 L366.1 434.5 L364.5 430.6 L362.9 426.8 L361.2 423 L359.4 419.3 L357.7 415.7 L355.8 412.1 L353.9 408.7 L351.8 405.4 L349.6 402.2 L347.2 399.3 L345 396.6 L342.9 394.3 L341 392.5 L339.4 391.1 M386.3 659.7 L389.6 658.3 L393.4 656.5 L397.6 654.2 L402.1 651.5 L406.7 648.6 L411.2 645.4 L415.4 642.1 L419.2 638.7 L422.9 635.1 L426.5 631.5 L430 627.8 L433.4 624 L436.6 620.2 L439.8 616.3 L442.8 612.3 L445.6 608.3 L448.2 604.3 L450.6 600.2 L452.9 596.1 L455.1 592 L457 587.8 L458.8 583.7 L460.4 579.5 L461.8 575.4 L463.1 571.2 L464.1 567 L465 562.9 L465.8 558.7 L466.5 554.5 L467.1 550.4 L467.7 546.2 L468.1 542.1 L468.4 537.9 L468.7 533.7 L468.8 529.6 L468.9 525.4 L468.8 521.2 L468.7 517.1 L468.4 512.9 L468.1 508.7 L467.7 504.6 L467.1 500.4 L466.5 496.3 L465.8 492.1 L465 487.9 L464.1 483.8 L463.1 479.6 L461.8 475.4 L460.4 471.3 L458.8 467.1 L457 463 L455.1 458.8 L452.9 454.7 L450.6 450.6 L448.2 446.5 L445.6 442.5 L442.8 438.5 L439.8 434.5 L436.6 430.6 L433.4 426.8 L430 423 L426.5 419.3 L422.9 415.7 L419.2 412.1 L415.4 408.7 L411.2 405.4 L406.7 402.2 L402.1 399.3 L397.6 396.6 L393.4 394.3 L389.6 392.5 L386.3 391.1" fill="none" stroke="#000" stroke-width="1.55"/>
<path d="M151.5 659.7 L146.6 658.3 L140.9 656.5 L134.6 654.2 L127.9 651.5 L120.9 648.6 L114.2 645.4 L107.9 642.1 L102.1 638.7 L96.6 635.1 L91.3 631.5 L86 627.8 L81 624 L76 620.2 L71.3 616.3 L66.8 612.3 L62.6 608.3 L58.7 604.3 L55.1 600.2 L51.6 596.1 L48.4 592 L45.5 587.8 L42.8 583.7 L40.4 579.5 L38.2 575.4 L36.4 571.2 L34.8 567 L33.5 562.9 L32.4 558.7 L31.3 554.5 L30.3 550.4 L29.5 546.2 L28.9 542.1 L28.4 537.9 L28 533.7 L27.7 529.6 L27.6 525.4 L27.7 521.2 L28 517.1 L28.4 512.9 L28.9 508.7 L29.5 504.6 L30.3 500.4 L31.3 496.3 L32.4 492.1 L33.5 487.9 L34.8 483.8 L36.4 479.6 L38.2 475.4 L40.4 471.3 L42.8 467.1 L45.5 463 L48.4 458.8 L51.6 454.7 L55.1 450.6 L58.7 446.5 L62.6 442.5 L66.8 438.5 L71.3 434.5 L76 430.6 L81 426.8 L86 423 L91.3 419.3 L96.6 415.7 L102.1 412.1 L107.9 408.7 L114.2 405.4 L120.9 402.2 L127.9 399.3 L134.6 396.6 L140.9 394.3 L146.6 392.5 L151.5 391.1 L433.3 391.1 L438.2 392.5 L443.9 394.3 L450.2 396.6 L456.9 399.3 L463.9 402.2 L470.6 405.4 L476.9 408.7 L482.7 412.1 L488.2 415.7 L493.5 419.3 L498.8 423 L503.8 426.8 L508.8 430.6 L513.5 434.5 L518 438.5 L522.2 442.5 L526.1 446.5 L529.7 450.6 L533.2 454.7 L536.4 458.8 L539.3 463 L542 467.1 L544.4 471.3 L546.6 475.4 L548.4 479.6 L550 483.8 L551.3 487.9 L552.4 492.1 L553.5 496.3 L554.5 500.4 L555.3 504.6 L555.9 508.7 L556.4 512.9 L556.8 517.1 L557.1 521.2 L557.2 525.4 L557.1 529.6 L556.8 533.7 L556.4 537.9 L555.9 542.1 L555.3 546.2 L554.5 550.4 L553.5 554.5 L552.4 558.7 L551.3 562.9 L550 567 L548.4 571.2 L546.6 575.4 L544.4 579.5 L542 583.7 L539.3 587.8 L536.4 592 L533.2 596.1 L529.7 600.2 L526.1 604.3 L522.2 608.3 L518 612.3 L513.5 616.3 L508.8 620.2 L503.8 624 L498.8 627.8 L493.5 631.5 L488.2 635.1 L482.7 638.7 L476.9 642.1 L470.6 645.4 L463.9 648.6 L456.9 651.5 L450.2 654.2 L443.9 656.5 L438.2 658.3 L433.3 659.7Z" fill="none" stroke="#000" stroke-width="1.9" stroke-linejoin="miter"/>
<text x="161.9" y="654.7" class="num">1</text>
<text x="212.4" y="654.7" class="num">2</text>
<text x="262.9" y="654.7" class="num">3</text>
<text x="313.4" y="654.7" class="num">4</text>
<text x="363.9" y="654.7" class="num">5</text>
<text x="414.4" y="654.7" class="num">6</text>
<text x="119.2" y="629.7" class="num">7</text>
<text x="186.2" y="629.7" class="num">8</text>
<text x="253.3" y="629.7" class="num">9</text>
<text x="320.3" y="629.7" class="num">10</text>
<text x="387.4" y="629.7" class="num">11</text>
<text x="454.4" y="629.7" class="num">12</text>
<text x="88.1" y="598.4" class="num">13</text>
<text x="167.2" y="598.4" class="num">14</text>
<text x="246.3" y="598.4" class="num">15</text>
<text x="325.4" y="598.4" class="num">16</text>
<text x="404.4" y="598.4" class="num">17</text>
<text x="483.5" y="598.4" class="num">18</text>
<text x="70.6" y="565.2" class="num">19</text>
<text x="156.4" y="565.2" class="num">20</text>
<text x="242.3" y="565.2" class="num">21</text>
<text x="328.2" y="565.2" class="num">22</text>
<text x="414.1" y="565.2" class="num">23</text>
<text x="499.9" y="565.2" class="num">24</text>
<text x="64.7" y="531.9" class="num">25</text>
<text x="152.9" y="531.9" class="num">26</text>
<text x="241" y="531.9" class="num">27</text>
<text x="329.1" y="531.9" class="num">28</text>
<text x="417.3" y="531.9" class="num">29</text>
<text x="505.4" y="531.9" class="num">30</text>
<text x="66.7" y="498.6" class="num">31</text>
<text x="154.1" y="498.6" class="num">32</text>
<text x="241.4" y="498.6" class="num">33</text>
<text x="328.8" y="498.6" class="num">34</text>
<text x="416.2" y="498.6" class="num">35</text>
<text x="503.5" y="498.6" class="num">36</text>
<text x="77.5" y="465.3" class="num">37</text>
<text x="160.7" y="465.3" class="num">38</text>
<text x="243.9" y="465.3" class="num">39</text>
<text x="327.1" y="465.3" class="num">40</text>
<text x="410.3" y="465.3" class="num">41</text>
<text x="493.5" y="465.3" class="num">42</text>
<text x="102" y="432.7" class="num">43</text>
<text x="175.7" y="432.7" class="num">44</text>
<text x="249.4" y="432.7" class="num">45</text>
<text x="323.1" y="432.7" class="num">46</text>
<text x="396.8" y="432.7" class="num">47</text>
<text x="470.5" y="432.7" class="num">48</text>
<text x="138.9" y="403.6" class="num">49</text>
<text x="198.3" y="403.6" class="num">50</text>
<text x="257.7" y="403.6" class="num">51</text>
<text x="317.2" y="403.6" class="num">52</text>
<text x="376.6" y="403.6" class="num">53</text>
<text x="436" y="403.6" class="num">54</text>
<text x="93.7" y="641.9" class="lat">70°S</text>
<text x="57.1" y="611.6" class="lat">50°S</text>
<text x="33.2" y="578.6" class="lat">30°S</text>
<text x="23.4" y="545.3" class="lat">10°S</text>
<text x="23.4" y="512" class="lat">10°N</text>
<text x="33.2" y="478.7" class="lat">30°N</text>
<text x="57.1" y="445.7" class="lat">50°N</text>
<text x="93.7" y="415.4" class="lat">70°N</text>
<text x="147.5" y="674.9" class="lon">0°</text>
<text x="198.6" y="674.9" class="lon">60°E</text>
<text x="245.5" y="674.9" class="lon">120°E</text>
<text x="292.5" y="674.9" class="lon">180°W</text>
<text x="339.5" y="674.9" class="lon">120°W</text>
<text x="386.4" y="674.9" class="lon">60°W</text>
<text x="292.1" y="383.2" class="title">Trends [1981-2022]</text>
</g>
<g>
<rect x="624.7" y="283.99" width="15.2" height="40.11" fill="#ffffff"/>
<rect x="624.7" y="243.88" width="15.2" height="40.41" fill="#e0f7dc"/>
<rect x="624.7" y="203.76" width="15.2" height="40.41" fill="#c6edc6"/>
<rect x="624.7" y="163.65" width="15.2" height="40.41" fill="#a6e0b9"/>
<rect x="624.7" y="123.54" width="15.2" height="40.41" fill="#7ccdc9"/>
<rect x="624.7" y="83.42" width="15.2" height="40.41" fill="#5db3cf"/>
<rect x="624.7" y="43.31" width="15.2" height="40.41" fill="#4189be"/>
<rect x="624.7" y="3.20" width="15.2" height="40.41" fill="#26478a"/>
<path d="M624.7 283.99 H639.9 M624.7 243.88 H639.9 M624.7 203.76 H639.9 M624.7 163.65 H639.9 M624.7 123.54 H639.9 M624.7 83.43 H639.9 M624.7 43.31 H639.9" stroke="#0a0a0a" stroke-width="1.0" fill="none"/>
<rect x="624.7" y="3.20" width="15.2" height="320.90" fill="none" stroke="#0a0a0a" stroke-width="1.0"/>
<text x="619.5" y="328.3" class="cl">0.0</text>
<text x="645.3" y="328.3" class="cr">0.00</text>
<text x="619.5" y="288.2" class="cl">0.2</text>
<text x="645.3" y="288.2" class="cr">1.24</text>
<text x="619.5" y="248.1" class="cl">0.4</text>
<text x="645.3" y="248.1" class="cr">2.48</text>
<text x="619.5" y="208.0" class="cl">0.6</text>
<text x="645.3" y="208.0" class="cr">3.72</text>
<text x="619.5" y="167.8" class="cl">0.8</text>
<text x="645.3" y="167.8" class="cr">4.97</text>
<text x="619.5" y="127.7" class="cl">1.0</text>
<text x="645.3" y="127.7" class="cr">6.21</text>
<text x="619.5" y="87.6" class="cl">1.2</text>
<text x="645.3" y="87.6" class="cr">7.45</text>
<text x="619.5" y="47.5" class="cl">1.4</text>
<text x="645.3" y="47.5" class="cr">8.69</text>
<text x="619.5" y="7.4" class="cl">1.6</text>
<text x="645.3" y="7.4" class="cr">9.93</text>
<text transform="translate(595.8 163.7) rotate(-90)" class="cbl">Contribution to mean Arctic WV [g m<tspan dy="-4.3" font-size="7.4px">−2</tspan><tspan dy="4.3">]</tspan></text>
<text transform="translate(679.9 163.7) rotate(-90)" class="cbl">Relative contribution to mean Arctic WV [%]</text>
</g>
<g>
<rect x="624.7" y="671.36" width="15.2" height="11.44" fill="#22346c"/>
<rect x="624.7" y="659.92" width="15.2" height="11.74" fill="#2a4282"/>
<rect x="624.7" y="648.48" width="15.2" height="11.74" fill="#3457a0"/>
<rect x="624.7" y="637.04" width="15.2" height="11.74" fill="#4374b8"/>
<rect x="624.7" y="625.60" width="15.2" height="11.74" fill="#548fc8"/>
<rect x="624.7" y="614.16" width="15.2" height="11.74" fill="#6aaad8"/>
<rect x="624.7" y="602.73" width="15.2" height="11.74" fill="#80c1e2"/>
<rect x="624.7" y="591.29" width="15.2" height="11.74" fill="#95d5e9"/>
<rect x="624.7" y="579.85" width="15.2" height="11.74" fill="#aee4f2"/>
<rect x="624.7" y="568.41" width="15.2" height="11.74" fill="#c3ebf5"/>
<rect x="624.7" y="556.97" width="15.2" height="11.74" fill="#d8f2f8"/>
<rect x="624.7" y="545.53" width="15.2" height="11.74" fill="#e6f5fa"/>
<rect x="624.7" y="534.09" width="15.2" height="11.74" fill="#f5fbfd"/>
<rect x="624.7" y="522.65" width="15.2" height="11.74" fill="#ffffff"/>
<rect x="624.7" y="511.21" width="15.2" height="11.74" fill="#ffffff"/>
<rect x="624.7" y="499.77" width="15.2" height="11.74" fill="#fdfdf1"/>
<rect x="624.7" y="488.33" width="15.2" height="11.74" fill="#f9f8d0"/>
<rect x="624.7" y="476.89" width="15.2" height="11.74" fill="#f3f0a6"/>
<rect x="624.7" y="465.45" width="15.2" height="11.74" fill="#efdc7c"/>
<rect x="624.7" y="454.01" width="15.2" height="11.74" fill="#ecc258"/>
<rect x="624.7" y="442.57" width="15.2" height="11.74" fill="#eda83e"/>
<rect x="624.7" y="431.14" width="15.2" height="11.74" fill="#ee9436"/>
<rect x="624.7" y="419.70" width="15.2" height="11.74" fill="#ef7e33"/>
<rect x="624.7" y="408.26" width="15.2" height="11.74" fill="#ea552e"/>
<rect x="624.7" y="396.82" width="15.2" height="11.74" fill="#e03c2e"/>
<rect x="624.7" y="385.38" width="15.2" height="11.74" fill="#d12c2c"/>
<rect x="624.7" y="373.94" width="15.2" height="11.74" fill="#b52326"/>
<rect x="624.7" y="362.50" width="15.2" height="11.74" fill="#8f1b1f"/>
<path d="M624.7 671.36 H639.9 M624.7 659.92 H639.9 M624.7 648.48 H639.9 M624.7 637.04 H639.9 M624.7 625.60 H639.9 M624.7 614.16 H639.9 M624.7 602.72 H639.9 M624.7 591.29 H639.9 M624.7 579.85 H639.9 M624.7 568.41 H639.9 M624.7 556.97 H639.9 M624.7 545.53 H639.9 M624.7 534.09 H639.9 M624.7 522.65 H639.9 M624.7 511.21 H639.9 M624.7 499.77 H639.9 M624.7 488.33 H639.9 M624.7 476.89 H639.9 M624.7 465.45 H639.9 M624.7 454.01 H639.9 M624.7 442.57 H639.9 M624.7 431.14 H639.9 M624.7 419.70 H639.9 M624.7 408.26 H639.9 M624.7 396.82 H639.9 M624.7 385.38 H639.9 M624.7 373.94 H639.9" stroke="#0a0a0a" stroke-width="1.0" fill="none"/>
<rect x="624.7" y="362.50" width="15.2" height="320.30" fill="none" stroke="#0a0a0a" stroke-width="1.0"/>
<text x="619.5" y="687.0" class="cl">−0.35</text>
<text x="645.3" y="687.0" class="cr">-15.3</text>
<text x="619.5" y="664.1" class="cl">−0.30</text>
<text x="645.3" y="664.1" class="cr">-13.1</text>
<text x="619.5" y="641.2" class="cl">−0.25</text>
<text x="645.3" y="641.2" class="cr">-10.9</text>
<text x="619.5" y="618.4" class="cl">−0.20</text>
<text x="645.3" y="618.4" class="cr">-8.8</text>
<text x="619.5" y="595.5" class="cl">−0.15</text>
<text x="645.3" y="595.5" class="cr">-6.6</text>
<text x="619.5" y="572.6" class="cl">−0.10</text>
<text x="645.3" y="572.6" class="cr">-4.4</text>
<text x="619.5" y="549.7" class="cl">−0.05</text>
<text x="645.3" y="549.7" class="cr">-2.2</text>
<text x="619.5" y="526.9" class="cl">0.00</text>
<text x="645.3" y="526.9" class="cr">0.0</text>
<text x="619.5" y="504.0" class="cl">0.05</text>
<text x="645.3" y="504.0" class="cr">2.2</text>
<text x="619.5" y="481.1" class="cl">0.10</text>
<text x="645.3" y="481.1" class="cr">4.4</text>
<text x="619.5" y="458.2" class="cl">0.15</text>
<text x="645.3" y="458.2" class="cr">6.6</text>
<text x="619.5" y="435.3" class="cl">0.20</text>
<text x="645.3" y="435.3" class="cr">8.8</text>
<text x="619.5" y="412.5" class="cl">0.25</text>
<text x="645.3" y="412.5" class="cr">10.9</text>
<text x="619.5" y="389.6" class="cl">0.30</text>
<text x="645.3" y="389.6" class="cr">13.1</text>
<text x="619.5" y="366.7" class="cl">0.35</text>
<text x="645.3" y="366.7" class="cr">15.3</text>
<text transform="translate(581.3 522.6) rotate(-90)" class="cbl">Contribution to Arctic WV trend [g m<tspan dy="-4.3" font-size="7.4px">−2</tspan><tspan dy="4.3"> decade</tspan><tspan dy="-4.3" font-size="7.4px">−1</tspan><tspan dy="4.3">]</tspan></text>
<text transform="translate(683.4 522.6) rotate(-90)" class="cbl">Relative Contribution to Arctic WV trend [%]</text>
</g>
</svg></body></html>
